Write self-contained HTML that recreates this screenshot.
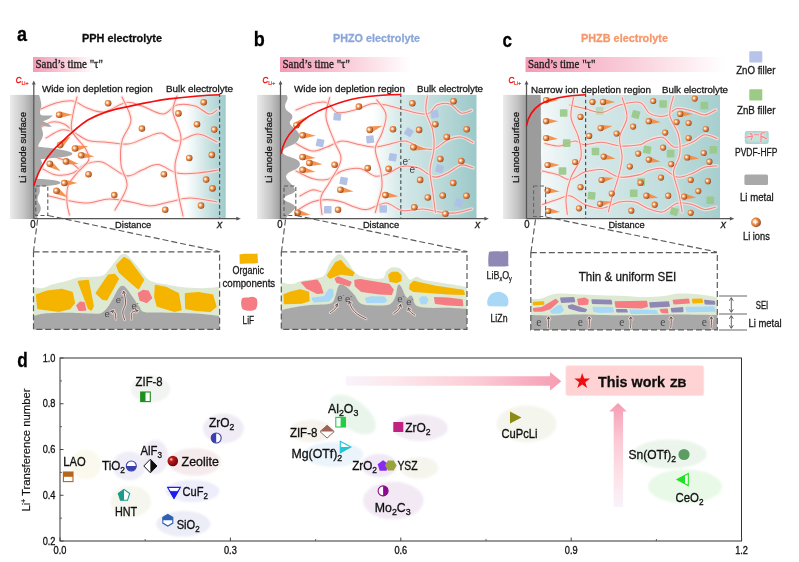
<!DOCTYPE html>
<html><head><meta charset="utf-8"><title>figure</title>
<style>
html,body{margin:0;padding:0;background:#fff;}
body{width:799px;height:562px;overflow:hidden;font-family:"Liberation Sans",sans-serif;}
svg{display:block;}
</style></head><body>
<svg width="799" height="562" viewBox="0 0 799 562">
<defs>
<radialGradient id="ion" cx="0.38" cy="0.42" r="0.62">
<stop offset="0" stop-color="#ffffff"/><stop offset="0.2" stop-color="#ffe2c6"/><stop offset="0.45" stop-color="#ee914c"/><stop offset="0.8" stop-color="#c4672f"/><stop offset="1" stop-color="#7a4224"/>
</radialGradient>
<linearGradient id="sand" x1="0" x2="1"><stop offset="0" stop-color="#f49bb6"/><stop offset="0.5" stop-color="#f9cbd8"/><stop offset="1" stop-color="#ffffff"/></linearGradient>
<linearGradient id="liA" x1="0" x2="1"><stop offset="0" stop-color="#ececec"/><stop offset="0.6" stop-color="#c4c4c4"/><stop offset="1" stop-color="#9e9e9e"/></linearGradient>
<linearGradient id="tealA" x1="0" x2="1"><stop offset="0" stop-color="#ffffff"/><stop offset="1" stop-color="#9ecaca"/></linearGradient>
<linearGradient id="tealB" x1="0" x2="1"><stop offset="0" stop-color="#ffffff"/><stop offset="0.28" stop-color="#d4e8e8"/><stop offset="0.6" stop-color="#bfdcdc"/><stop offset="1" stop-color="#9cc8c8"/></linearGradient>
<linearGradient id="tealC" x1="0" x2="1"><stop offset="0" stop-color="#f4f9fa"/><stop offset="0.12" stop-color="#e6f1f2"/><stop offset="0.25" stop-color="#d6e8e9"/><stop offset="0.7" stop-color="#c1dddd"/><stop offset="1" stop-color="#a6cece"/></linearGradient>
<linearGradient id="harrow" x1="0" x2="1"><stop offset="0" stop-color="#f8f3fb"/><stop offset="0.25" stop-color="#fde6eb"/><stop offset="0.6" stop-color="#fbccd6"/><stop offset="1" stop-color="#f69cb3"/></linearGradient>
<linearGradient id="varrow" x1="0" x2="0" y1="1" y2="0"><stop offset="0" stop-color="#f8f3fb"/><stop offset="0.3" stop-color="#fde2e8"/><stop offset="0.65" stop-color="#fbc9d4"/><stop offset="1" stop-color="#f69cb3"/></linearGradient>
<clipPath id="clipA"><rect x="34" y="93" width="192" height="125"/></clipPath>
<clipPath id="clipB"><rect x="281" y="93" width="195.5" height="125"/></clipPath>
<clipPath id="clipC"><rect x="540" y="93" width="180" height="125"/></clipPath>
<radialGradient id="zeo" cx="0.35" cy="0.35" r="0.7"><stop offset="0" stop-color="#ffdede"/><stop offset="0.25" stop-color="#c02020"/><stop offset="1" stop-color="#6a0000"/></radialGradient>
<filter id="eb" x="-10%" y="-10%" width="120%" height="120%"><feGaussianBlur stdDeviation="0.9"/></filter>
<filter id="soft" x="-5%" y="-5%" width="110%" height="110%"><feGaussianBlur stdDeviation="0.35"/></filter>
</defs>
<rect width="799" height="562" fill="#ffffff"/>
<g filter="url(#soft)">

<rect x="10" y="94.9" width="23.799999999999997" height="124.1" fill="url(#liA)"/>
<rect x="186" y="94.9" width="39.69999999999999" height="124.1" fill="url(#tealA)"/>
<rect x="257" y="94.9" width="23.5" height="124.1" fill="url(#liA)"/>
<rect x="372" y="94.9" width="104.5" height="124.1" fill="url(#tealB)"/>
<rect x="503" y="94.9" width="23.5" height="124.1" fill="url(#liA)"/>
<rect x="541" y="94.9" width="179" height="124.1" fill="url(#tealC)"/>
<g clip-path="url(#clipA)">
<path d="M41.0,109.0 C43.5,108.0 50.7,104.3 56.0,103.0 C61.3,101.7 67.8,100.2 73.0,101.0 C78.2,101.8 81.8,106.2 87.0,108.0 C92.2,109.8 97.5,112.9 104.0,112.0 C110.5,111.1 119.7,103.5 126.0,102.5 C132.3,101.5 135.8,104.1 142.0,106.0 C148.2,107.9 157.2,114.2 163.0,114.0 C168.8,113.8 171.7,106.3 177.0,105.0 C182.3,103.7 189.7,104.5 195.0,106.0 C200.3,107.5 205.3,113.3 209.0,114.0 C212.7,114.7 215.7,110.7 217.0,110.0" fill="none" stroke="#fde3de" stroke-width="3.6500000000000004" stroke-linecap="round" opacity="0.75"/>
<path d="M41.0,109.0 C43.5,108.0 50.7,104.3 56.0,103.0 C61.3,101.7 67.8,100.2 73.0,101.0 C78.2,101.8 81.8,106.2 87.0,108.0 C92.2,109.8 97.5,112.9 104.0,112.0 C110.5,111.1 119.7,103.5 126.0,102.5 C132.3,101.5 135.8,104.1 142.0,106.0 C148.2,107.9 157.2,114.2 163.0,114.0 C168.8,113.8 171.7,106.3 177.0,105.0 C182.3,103.7 189.7,104.5 195.0,106.0 C200.3,107.5 205.3,113.3 209.0,114.0 C212.7,114.7 215.7,110.7 217.0,110.0" fill="none" stroke="#f5807c" stroke-width="1.05" stroke-linecap="round"/>
<path d="M46.0,138.0 C48.5,136.7 56.5,131.0 61.0,130.0 C65.5,129.0 68.5,130.2 73.0,132.0 C77.5,133.8 82.8,138.8 88.0,140.5 C93.2,142.2 97.3,141.4 104.0,142.0 C110.7,142.6 121.2,144.7 128.0,144.0 C134.8,143.3 139.5,139.8 145.0,138.0 C150.5,136.2 155.7,132.5 161.0,133.0 C166.3,133.5 170.8,140.8 177.0,141.0 C183.2,141.2 191.3,133.8 198.0,134.0 C204.7,134.2 213.8,140.7 217.0,142.0" fill="none" stroke="#fde3de" stroke-width="3.6500000000000004" stroke-linecap="round" opacity="0.75"/>
<path d="M46.0,138.0 C48.5,136.7 56.5,131.0 61.0,130.0 C65.5,129.0 68.5,130.2 73.0,132.0 C77.5,133.8 82.8,138.8 88.0,140.5 C93.2,142.2 97.3,141.4 104.0,142.0 C110.7,142.6 121.2,144.7 128.0,144.0 C134.8,143.3 139.5,139.8 145.0,138.0 C150.5,136.2 155.7,132.5 161.0,133.0 C166.3,133.5 170.8,140.8 177.0,141.0 C183.2,141.2 191.3,133.8 198.0,134.0 C204.7,134.2 213.8,140.7 217.0,142.0" fill="none" stroke="#f5807c" stroke-width="1.05" stroke-linecap="round"/>
<path d="M43.0,169.0 C45.2,170.0 51.0,174.3 56.0,175.0 C61.0,175.7 68.2,174.8 73.0,173.0 C77.8,171.2 80.2,166.3 85.0,164.5 C89.8,162.7 95.2,160.1 102.0,162.0 C108.8,163.9 119.3,174.4 126.0,175.7 C132.7,177.0 136.7,171.9 142.0,170.0 C147.3,168.1 152.2,164.0 158.0,164.5 C163.8,165.0 170.3,171.6 177.0,173.0 C183.7,174.4 191.2,173.5 198.0,173.0 C204.8,172.5 214.7,170.5 218.0,170.0" fill="none" stroke="#fde3de" stroke-width="3.6500000000000004" stroke-linecap="round" opacity="0.75"/>
<path d="M43.0,169.0 C45.2,170.0 51.0,174.3 56.0,175.0 C61.0,175.7 68.2,174.8 73.0,173.0 C77.8,171.2 80.2,166.3 85.0,164.5 C89.8,162.7 95.2,160.1 102.0,162.0 C108.8,163.9 119.3,174.4 126.0,175.7 C132.7,177.0 136.7,171.9 142.0,170.0 C147.3,168.1 152.2,164.0 158.0,164.5 C163.8,165.0 170.3,171.6 177.0,173.0 C183.7,174.4 191.2,173.5 198.0,173.0 C204.8,172.5 214.7,170.5 218.0,170.0" fill="none" stroke="#f5807c" stroke-width="1.05" stroke-linecap="round"/>
<path d="M49.0,196.0 C52.2,196.8 61.5,199.3 68.0,200.5 C74.5,201.7 81.2,203.2 88.0,203.0 C94.8,202.8 101.8,199.2 109.0,199.0 C116.2,198.8 124.2,200.8 131.0,202.0 C137.8,203.2 143.7,206.0 150.0,206.0 C156.3,206.0 162.3,203.3 169.0,202.0 C175.7,200.7 182.0,198.0 190.0,198.0 C198.0,198.0 212.5,201.3 217.0,202.0" fill="none" stroke="#fde3de" stroke-width="3.6500000000000004" stroke-linecap="round" opacity="0.75"/>
<path d="M49.0,196.0 C52.2,196.8 61.5,199.3 68.0,200.5 C74.5,201.7 81.2,203.2 88.0,203.0 C94.8,202.8 101.8,199.2 109.0,199.0 C116.2,198.8 124.2,200.8 131.0,202.0 C137.8,203.2 143.7,206.0 150.0,206.0 C156.3,206.0 162.3,203.3 169.0,202.0 C175.7,200.7 182.0,198.0 190.0,198.0 C198.0,198.0 212.5,201.3 217.0,202.0" fill="none" stroke="#f5807c" stroke-width="1.05" stroke-linecap="round"/>
<path d="M41.0,127.0 C42.8,126.2 48.2,122.5 52.0,122.0 C55.8,121.5 60.5,122.5 64.0,124.0 C67.5,125.5 71.5,129.8 73.0,131.0" fill="none" stroke="#fde3de" stroke-width="3.6500000000000004" stroke-linecap="round" opacity="0.75"/>
<path d="M41.0,127.0 C42.8,126.2 48.2,122.5 52.0,122.0 C55.8,121.5 60.5,122.5 64.0,124.0 C67.5,125.5 71.5,129.8 73.0,131.0" fill="none" stroke="#f5807c" stroke-width="1.05" stroke-linecap="round"/>
<path d="M44.0,152.0 C46.3,153.0 53.7,156.3 58.0,158.0 C62.3,159.7 66.3,160.0 70.0,162.0 C73.7,164.0 78.3,168.7 80.0,170.0" fill="none" stroke="#fde3de" stroke-width="3.6500000000000004" stroke-linecap="round" opacity="0.75"/>
<path d="M44.0,152.0 C46.3,153.0 53.7,156.3 58.0,158.0 C62.3,159.7 66.3,160.0 70.0,162.0 C73.7,164.0 78.3,168.7 80.0,170.0" fill="none" stroke="#f5807c" stroke-width="1.05" stroke-linecap="round"/>
<path d="M77.0,97.0 C76.3,99.8 73.8,108.3 73.0,114.0 C72.2,119.7 70.0,125.3 72.0,131.0 C74.0,136.7 82.2,143.2 85.0,148.0 C87.8,152.8 89.9,156.0 88.7,160.0 C87.5,164.0 81.5,167.7 78.0,172.0 C74.5,176.3 69.8,180.8 68.0,186.0 C66.2,191.2 66.8,198.2 67.0,203.0 C67.2,207.8 69.1,213.0 69.5,215.0" fill="none" stroke="#fde3de" stroke-width="3.6500000000000004" stroke-linecap="round" opacity="0.75"/>
<path d="M77.0,97.0 C76.3,99.8 73.8,108.3 73.0,114.0 C72.2,119.7 70.0,125.3 72.0,131.0 C74.0,136.7 82.2,143.2 85.0,148.0 C87.8,152.8 89.9,156.0 88.7,160.0 C87.5,164.0 81.5,167.7 78.0,172.0 C74.5,176.3 69.8,180.8 68.0,186.0 C66.2,191.2 66.8,198.2 67.0,203.0 C67.2,207.8 69.1,213.0 69.5,215.0" fill="none" stroke="#f5807c" stroke-width="1.05" stroke-linecap="round"/>
<path d="M122.0,97.0 C123.5,100.8 131.0,112.7 131.0,120.0 C131.0,127.3 123.7,133.5 122.0,141.0 C120.3,148.5 120.2,157.5 121.0,165.0 C121.8,172.5 128.0,178.5 127.0,186.0 C126.0,193.5 117.0,206.0 115.0,210.0" fill="none" stroke="#fde3de" stroke-width="3.6500000000000004" stroke-linecap="round" opacity="0.75"/>
<path d="M122.0,97.0 C123.5,100.8 131.0,112.7 131.0,120.0 C131.0,127.3 123.7,133.5 122.0,141.0 C120.3,148.5 120.2,157.5 121.0,165.0 C121.8,172.5 128.0,178.5 127.0,186.0 C126.0,193.5 117.0,206.0 115.0,210.0" fill="none" stroke="#f5807c" stroke-width="1.05" stroke-linecap="round"/>
<path d="M177.0,96.0 C176.3,98.7 172.3,105.0 173.0,112.0 C173.7,119.0 180.7,129.2 181.0,138.0 C181.3,146.8 175.5,156.0 175.0,165.0 C174.5,174.0 176.7,183.5 178.0,192.0 C179.3,200.5 182.2,212.0 183.0,216.0" fill="none" stroke="#fde3de" stroke-width="3.6500000000000004" stroke-linecap="round" opacity="0.75"/>
<path d="M177.0,96.0 C176.3,98.7 172.3,105.0 173.0,112.0 C173.7,119.0 180.7,129.2 181.0,138.0 C181.3,146.8 175.5,156.0 175.0,165.0 C174.5,174.0 176.7,183.5 178.0,192.0 C179.3,200.5 182.2,212.0 183.0,216.0" fill="none" stroke="#f5807c" stroke-width="1.05" stroke-linecap="round"/>
</g>
<path d="M33.8,94.9 L39,94.9 C39.8,96.5 40.8,100 41.3,104 C41.5,107.5 40,110 40,112.5 C40,114 40.5,114.8 41.5,115.2 C45,116.2 49,115 52.8,115.6 C51,118.2 46.5,120.2 42.8,121.3 C46,122.2 49.5,124.4 51.8,126.6 C48,127.6 43.8,125.2 41,125.8 C41.2,128.5 43.2,131 43,134.5 C42.8,139.5 38.5,142.5 38.2,146.8 C46,147.5 58,148.9 66,150.7 C70,151.6 72.6,152.6 72.4,153.8 C72.2,155.2 69,156.1 65,156.7 C57,157.9 47,158.3 40.5,159.3 C42.5,161.5 42.2,164.5 40.6,167.5 C38.6,171 37,174.5 37.4,178.8 C44,179 52,179.6 57,180.8 C59.5,181.5 60.6,182.2 60.4,182.9 C60,183.9 57,184.7 53,185.3 C48,186 43,186 39.5,186.8 C40,190 40.3,192.5 38.4,195.5 C36.7,198.5 37.4,201.5 39.6,204.5 C41.6,207.5 41,211.5 38.2,214.5 C37,216 37.2,218 37.6,219 L33.8,219 Z" fill="#a9a9a9"/>
<circle cx="108.1" cy="103.2" r="3.3" fill="url(#ion)"/>
<polygon points="60.1,117.9 72.4,114.7 60.1,111.6" fill="#f58a42" opacity="0.92"/>
<circle cx="59.1" cy="114.7" r="3.3" fill="url(#ion)"/>
<circle cx="203.7" cy="102.2" r="3.3" fill="url(#ion)"/>
<circle cx="178.4" cy="113.4" r="3.3" fill="url(#ion)"/>
<circle cx="197.0" cy="124.2" r="3.3" fill="url(#ion)"/>
<circle cx="141.9" cy="128.6" r="3.3" fill="url(#ion)"/>
<circle cx="214.2" cy="129.6" r="3.3" fill="url(#ion)"/>
<polygon points="62.9,146.9 70.3,136.6 58.9,142.1" fill="#f58a42" opacity="0.92"/>
<circle cx="60.1" cy="145.1" r="3.3" fill="url(#ion)"/>
<polygon points="76.5,151.4 88.1,146.2 75.4,145.3" fill="#f58a42" opacity="0.92"/>
<circle cx="75.0" cy="148.5" r="3.3" fill="url(#ion)"/>
<polygon points="81.8,158.5 94.3,156.4 82.4,152.2" fill="#f58a42" opacity="0.92"/>
<circle cx="81.1" cy="155.3" r="3.3" fill="url(#ion)"/>
<polygon points="66.2,164.6 78.9,164.1 67.5,158.5" fill="#f58a42" opacity="0.92"/>
<circle cx="65.9" cy="161.4" r="3.3" fill="url(#ion)"/>
<polygon points="48.7,166.9 60.6,171.3 52.3,161.7" fill="#f58a42" opacity="0.92"/>
<circle cx="49.7" cy="163.7" r="3.3" fill="url(#ion)"/>
<circle cx="88.5" cy="174.2" r="3.3" fill="url(#ion)"/>
<circle cx="163.9" cy="174.2" r="3.3" fill="url(#ion)"/>
<circle cx="189.2" cy="158.0" r="3.3" fill="url(#ion)"/>
<circle cx="211.8" cy="154.9" r="3.3" fill="url(#ion)"/>
<circle cx="206.1" cy="179.6" r="3.3" fill="url(#ion)"/>
<circle cx="212.5" cy="188.4" r="3.3" fill="url(#ion)"/>
<polygon points="65.2,186.1 77.5,183.0 65.2,179.8" fill="#f58a42" opacity="0.92"/>
<circle cx="64.2" cy="183.0" r="3.3" fill="url(#ion)"/>
<polygon points="55.7,194.0 67.9,197.4 58.9,188.5" fill="#f58a42" opacity="0.92"/>
<circle cx="56.4" cy="190.7" r="3.3" fill="url(#ion)"/>
<circle cx="114.2" cy="195.1" r="3.3" fill="url(#ion)"/>
<circle cx="165.2" cy="209.7" r="3.3" fill="url(#ion)"/>
<circle cx="201.0" cy="205.6" r="3.3" fill="url(#ion)"/>
<rect x="35.8" y="186" width="12" height="29.5" fill="none" stroke="#5a5a5a" stroke-width="1.1" stroke-dasharray="4,2.4"/>
<path d="M37.6,219.5 L33.5,251.5 M48,215.5 L219.6,251.5" fill="none" stroke="#5a5a5a" stroke-width="1.15" stroke-dasharray="6,3"/>
<g clip-path="url(#clipB)">
<path d="M296.0,110.0 C298.7,109.0 306.8,105.0 312.0,103.7 C317.2,102.4 322.8,101.0 327.0,102.4 C331.2,103.9 332.4,111.1 337.0,112.4 C341.6,113.7 348.8,111.5 354.6,110.0 C360.4,108.5 366.8,104.5 372.0,103.7 C377.2,102.9 380.5,104.0 386.0,105.0 C391.5,106.0 398.2,108.5 405.0,110.0 C411.8,111.5 421.7,114.8 427.0,114.0 C432.3,113.2 433.2,106.7 437.0,105.0 C440.8,103.3 446.0,102.7 450.0,104.0 C454.0,105.3 457.4,111.9 461.0,113.0 C464.6,114.1 469.8,110.8 471.5,110.4" fill="none" stroke="#fde3de" stroke-width="3.6500000000000004" stroke-linecap="round" opacity="0.75"/>
<path d="M296.0,110.0 C298.7,109.0 306.8,105.0 312.0,103.7 C317.2,102.4 322.8,101.0 327.0,102.4 C331.2,103.9 332.4,111.1 337.0,112.4 C341.6,113.7 348.8,111.5 354.6,110.0 C360.4,108.5 366.8,104.5 372.0,103.7 C377.2,102.9 380.5,104.0 386.0,105.0 C391.5,106.0 398.2,108.5 405.0,110.0 C411.8,111.5 421.7,114.8 427.0,114.0 C432.3,113.2 433.2,106.7 437.0,105.0 C440.8,103.3 446.0,102.7 450.0,104.0 C454.0,105.3 457.4,111.9 461.0,113.0 C464.6,114.1 469.8,110.8 471.5,110.4" fill="none" stroke="#f5807c" stroke-width="1.05" stroke-linecap="round"/>
<path d="M296.0,143.5 C298.7,144.8 306.8,150.4 312.0,151.0 C317.2,151.6 322.0,148.7 327.0,147.0 C332.0,145.3 336.5,141.4 342.0,141.0 C347.5,140.6 354.6,143.8 360.0,144.8 C365.4,145.8 370.2,147.0 374.5,147.0 C378.8,147.0 380.9,146.0 386.0,145.0 C391.1,144.0 399.2,140.5 405.0,141.0 C410.8,141.5 416.2,146.7 421.0,148.0 C425.8,149.3 429.6,150.3 434.0,149.0 C438.4,147.7 443.0,142.0 447.5,140.0 C452.0,138.0 456.8,136.6 461.0,137.0 C465.2,137.4 471.0,141.5 473.0,142.4" fill="none" stroke="#fde3de" stroke-width="3.6500000000000004" stroke-linecap="round" opacity="0.75"/>
<path d="M296.0,143.5 C298.7,144.8 306.8,150.4 312.0,151.0 C317.2,151.6 322.0,148.7 327.0,147.0 C332.0,145.3 336.5,141.4 342.0,141.0 C347.5,140.6 354.6,143.8 360.0,144.8 C365.4,145.8 370.2,147.0 374.5,147.0 C378.8,147.0 380.9,146.0 386.0,145.0 C391.1,144.0 399.2,140.5 405.0,141.0 C410.8,141.5 416.2,146.7 421.0,148.0 C425.8,149.3 429.6,150.3 434.0,149.0 C438.4,147.7 443.0,142.0 447.5,140.0 C452.0,138.0 456.8,136.6 461.0,137.0 C465.2,137.4 471.0,141.5 473.0,142.4" fill="none" stroke="#f5807c" stroke-width="1.05" stroke-linecap="round"/>
<path d="M296.0,171.0 C298.7,172.2 306.8,177.0 312.0,178.4 C317.2,179.8 322.0,180.8 327.0,179.6 C332.0,178.4 336.5,172.9 342.0,171.0 C347.5,169.1 354.6,167.6 360.0,168.4 C365.4,169.2 370.2,175.0 374.5,176.0 C378.8,177.0 381.4,176.1 386.0,174.5 C390.6,172.9 396.7,167.6 402.0,166.5 C407.3,165.4 412.7,166.1 418.0,167.8 C423.3,169.6 429.1,176.1 434.0,177.0 C438.9,177.9 443.0,175.0 447.5,173.0 C452.0,171.0 456.8,165.9 461.0,165.0 C465.2,164.1 471.0,167.3 473.0,167.8" fill="none" stroke="#fde3de" stroke-width="3.6500000000000004" stroke-linecap="round" opacity="0.75"/>
<path d="M296.0,171.0 C298.7,172.2 306.8,177.0 312.0,178.4 C317.2,179.8 322.0,180.8 327.0,179.6 C332.0,178.4 336.5,172.9 342.0,171.0 C347.5,169.1 354.6,167.6 360.0,168.4 C365.4,169.2 370.2,175.0 374.5,176.0 C378.8,177.0 381.4,176.1 386.0,174.5 C390.6,172.9 396.7,167.6 402.0,166.5 C407.3,165.4 412.7,166.1 418.0,167.8 C423.3,169.6 429.1,176.1 434.0,177.0 C438.9,177.9 443.0,175.0 447.5,173.0 C452.0,171.0 456.8,165.9 461.0,165.0 C465.2,164.1 471.0,167.3 473.0,167.8" fill="none" stroke="#f5807c" stroke-width="1.05" stroke-linecap="round"/>
<path d="M298.6,209.5 C300.8,208.2 307.3,203.7 312.0,202.0 C316.7,200.3 322.0,199.6 327.0,199.6 C332.0,199.6 337.4,200.8 342.0,202.0 C346.6,203.2 350.4,205.8 354.6,207.0 C358.8,208.2 361.8,210.2 367.0,209.5 C372.2,208.8 380.2,202.8 386.0,203.0 C391.8,203.2 395.8,209.5 402.0,210.5 C408.2,211.5 416.8,208.8 423.0,209.0 C429.2,209.2 434.1,211.3 439.5,212.0 C444.9,212.7 450.2,213.5 455.5,213.0 C460.8,212.5 468.8,209.7 471.5,209.0" fill="none" stroke="#fde3de" stroke-width="3.6500000000000004" stroke-linecap="round" opacity="0.75"/>
<path d="M298.6,209.5 C300.8,208.2 307.3,203.7 312.0,202.0 C316.7,200.3 322.0,199.6 327.0,199.6 C332.0,199.6 337.4,200.8 342.0,202.0 C346.6,203.2 350.4,205.8 354.6,207.0 C358.8,208.2 361.8,210.2 367.0,209.5 C372.2,208.8 380.2,202.8 386.0,203.0 C391.8,203.2 395.8,209.5 402.0,210.5 C408.2,211.5 416.8,208.8 423.0,209.0 C429.2,209.2 434.1,211.3 439.5,212.0 C444.9,212.7 450.2,213.5 455.5,213.0 C460.8,212.5 468.8,209.7 471.5,209.0" fill="none" stroke="#f5807c" stroke-width="1.05" stroke-linecap="round"/>
<path d="M300.0,196.0 C302.0,195.0 308.3,190.7 312.0,190.0 C315.7,189.3 320.3,191.7 322.0,192.0" fill="none" stroke="#fde3de" stroke-width="3.6500000000000004" stroke-linecap="round" opacity="0.75"/>
<path d="M300.0,196.0 C302.0,195.0 308.3,190.7 312.0,190.0 C315.7,189.3 320.3,191.7 322.0,192.0" fill="none" stroke="#f5807c" stroke-width="1.05" stroke-linecap="round"/>
<path d="M329.7,97.5 C329.1,100.8 325.2,109.9 326.0,117.4 C326.8,124.9 332.2,135.2 334.7,142.3 C337.2,149.4 341.8,153.1 341.0,159.7 C340.2,166.3 333.0,175.8 329.7,182.0 C326.4,188.2 322.3,191.6 321.0,197.0 C319.7,202.4 321.8,211.6 322.0,214.5" fill="none" stroke="#fde3de" stroke-width="3.6500000000000004" stroke-linecap="round" opacity="0.75"/>
<path d="M329.7,97.5 C329.1,100.8 325.2,109.9 326.0,117.4 C326.8,124.9 332.2,135.2 334.7,142.3 C337.2,149.4 341.8,153.1 341.0,159.7 C340.2,166.3 333.0,175.8 329.7,182.0 C326.4,188.2 322.3,191.6 321.0,197.0 C319.7,202.4 321.8,211.6 322.0,214.5" fill="none" stroke="#f5807c" stroke-width="1.05" stroke-linecap="round"/>
<path d="M376.7,99.7 C378.2,102.2 385.1,108.9 386.0,114.4 C386.9,120.0 383.8,127.2 382.0,133.0 C380.2,138.8 375.5,142.8 375.3,149.0 C375.1,155.2 379.6,164.2 380.7,170.5 C381.8,176.8 382.4,181.2 382.0,186.5 C381.6,191.8 379.1,198.2 378.0,202.5 C376.9,206.8 375.8,210.8 375.3,212.5" fill="none" stroke="#fde3de" stroke-width="3.6500000000000004" stroke-linecap="round" opacity="0.75"/>
<path d="M376.7,99.7 C378.2,102.2 385.1,108.9 386.0,114.4 C386.9,120.0 383.8,127.2 382.0,133.0 C380.2,138.8 375.5,142.8 375.3,149.0 C375.1,155.2 379.6,164.2 380.7,170.5 C381.8,176.8 382.4,181.2 382.0,186.5 C381.6,191.8 379.1,198.2 378.0,202.5 C376.9,206.8 375.8,210.8 375.3,212.5" fill="none" stroke="#f5807c" stroke-width="1.05" stroke-linecap="round"/>
<path d="M427.4,95.7 C427.2,98.4 425.1,105.9 426.0,111.7 C426.9,117.5 431.5,124.2 432.8,130.4 C434.1,136.6 434.5,142.3 434.0,149.0 C433.5,155.7 430.2,163.3 430.0,170.5 C429.8,177.7 431.9,185.0 432.8,192.0 C433.7,199.0 435.0,209.1 435.4,212.5" fill="none" stroke="#fde3de" stroke-width="3.6500000000000004" stroke-linecap="round" opacity="0.75"/>
<path d="M427.4,95.7 C427.2,98.4 425.1,105.9 426.0,111.7 C426.9,117.5 431.5,124.2 432.8,130.4 C434.1,136.6 434.5,142.3 434.0,149.0 C433.5,155.7 430.2,163.3 430.0,170.5 C429.8,177.7 431.9,185.0 432.8,192.0 C433.7,199.0 435.0,209.1 435.4,212.5" fill="none" stroke="#f5807c" stroke-width="1.05" stroke-linecap="round"/>
</g>
<path d="M280.5,94.9 L286.5,94.9 C288,96.5 287.8,99 286.5,101.5 C284.8,104 284.6,107 286,109.5 C288,112 292,113 292.4,116.5 C292.6,119.5 289.5,120.5 289.8,123 C290.5,126.5 296,128.5 298.6,133 C300.5,137 298.5,141.5 294,144 C289.5,146.5 283,148 282.6,152 C283,156 291,156.5 296.5,159.5 C301,162 301,166 297,168.5 C292.5,171 286.5,172.5 286,176.5 C286.2,181 294.5,185.5 295.2,190.5 C295.2,194 284.5,195 283.6,198.5 C284,202 294.6,203 295.2,207 C295.4,211 287.5,213.5 286,219 L280.5,219 Z" fill="#a9a9a9"/>
<rect x="333.5" y="113.0" width="7.6" height="7.6" rx="0.8" fill="#aebfe6" opacity="0.95" transform="rotate(5 337.3 116.8)"/>
<rect x="316.3" y="139.0" width="7.6" height="7.6" rx="0.8" fill="#aebfe6" opacity="0.95" transform="rotate(12 320.1 142.8)"/>
<rect x="366.3" y="135.6" width="7.6" height="7.6" rx="0.8" fill="#aebfe6" opacity="0.95" transform="rotate(-6 370.1 139.4)"/>
<rect x="405.1" y="128.5" width="7.6" height="7.6" rx="0.8" fill="#aebfe6" opacity="0.95" transform="rotate(32 408.9 132.3)"/>
<rect x="388.9" y="153.5" width="7.6" height="7.6" rx="0.8" fill="#aebfe6" opacity="0.95" transform="rotate(10 392.7 157.3)"/>
<rect x="430.8" y="110.3" width="7.6" height="7.6" rx="0.8" fill="#aebfe6" opacity="0.95" transform="rotate(-12 434.6 114.1)"/>
<rect x="435.9" y="165.0" width="7.6" height="7.6" rx="0.8" fill="#aebfe6" opacity="0.95" transform="rotate(15 439.7 168.8)"/>
<rect x="339.9" y="177.1" width="7.6" height="7.6" rx="0.8" fill="#aebfe6" opacity="0.95" transform="rotate(10 343.7 180.9)"/>
<rect x="324.0" y="205.9" width="7.6" height="7.6" rx="0.8" fill="#aebfe6" opacity="0.95" transform="rotate(0 327.8 209.7)"/>
<rect x="379.4" y="205.2" width="7.6" height="7.6" rx="0.8" fill="#aebfe6" opacity="0.95" transform="rotate(0 383.2 209.0)"/>
<rect x="455.1" y="199.1" width="7.6" height="7.6" rx="0.8" fill="#aebfe6" opacity="0.95" transform="rotate(20 458.9 202.9)"/>
<circle cx="358.9" cy="106.6" r="3.3" fill="url(#ion)"/>
<polygon points="299.2,127.0 306.6,116.7 295.2,122.2" fill="#f58a42" opacity="0.92"/>
<circle cx="296.4" cy="125.2" r="3.3" fill="url(#ion)"/>
<polygon points="303.4,138.5 315.8,135.8 303.6,132.2" fill="#f58a42" opacity="0.92"/>
<circle cx="302.5" cy="135.3" r="3.3" fill="url(#ion)"/>
<polygon points="371.6,132.6 382.4,125.8 369.7,126.6" fill="#f58a42" opacity="0.92"/>
<circle cx="369.7" cy="129.9" r="3.3" fill="url(#ion)"/>
<circle cx="393.0" cy="129.3" r="3.3" fill="url(#ion)"/>
<polygon points="303.2,160.2 315.7,158.1 303.8,153.9" fill="#f58a42" opacity="0.92"/>
<circle cx="302.5" cy="157.0" r="3.3" fill="url(#ion)"/>
<polygon points="310.0,166.3 322.5,164.2 310.5,160.0" fill="#f58a42" opacity="0.92"/>
<circle cx="309.3" cy="163.0" r="3.3" fill="url(#ion)"/>
<polygon points="302.9,173.1 315.6,172.1 304.0,166.9" fill="#f58a42" opacity="0.92"/>
<circle cx="302.5" cy="169.8" r="3.3" fill="url(#ion)"/>
<circle cx="334.6" cy="164.7" r="3.3" fill="url(#ion)"/>
<circle cx="367.7" cy="168.1" r="3.3" fill="url(#ion)"/>
<circle cx="388.6" cy="168.8" r="3.3" fill="url(#ion)"/>
<polygon points="340.9,193.0 353.5,191.6 341.8,186.8" fill="#f58a42" opacity="0.92"/>
<circle cx="340.3" cy="189.7" r="3.3" fill="url(#ion)"/>
<polygon points="386.0,198.3 398.5,196.3 386.5,192.1" fill="#f58a42" opacity="0.92"/>
<circle cx="385.3" cy="195.1" r="3.3" fill="url(#ion)"/>
<circle cx="338.0" cy="209.7" r="3.3" fill="url(#ion)"/>
<polygon points="297.9,216.0 310.5,215.0 299.0,209.8" fill="#f58a42" opacity="0.92"/>
<circle cx="297.4" cy="212.7" r="3.3" fill="url(#ion)"/>
<circle cx="412.3" cy="103.2" r="3.3" fill="url(#ion)"/>
<circle cx="453.5" cy="101.2" r="3.3" fill="url(#ion)"/>
<circle cx="435.3" cy="124.2" r="3.3" fill="url(#ion)"/>
<circle cx="419.1" cy="129.9" r="3.3" fill="url(#ion)"/>
<circle cx="446.8" cy="137.0" r="3.3" fill="url(#ion)"/>
<circle cx="466.7" cy="129.3" r="3.3" fill="url(#ion)"/>
<polygon points="413.8,150.4 426.4,149.5 414.8,144.2" fill="#f58a42" opacity="0.92"/>
<circle cx="413.3" cy="147.2" r="3.3" fill="url(#ion)"/>
<circle cx="440.3" cy="159.0" r="3.3" fill="url(#ion)"/>
<circle cx="461.3" cy="161.0" r="3.3" fill="url(#ion)"/>
<circle cx="420.1" cy="179.9" r="3.3" fill="url(#ion)"/>
<circle cx="453.2" cy="183.0" r="3.3" fill="url(#ion)"/>
<circle cx="427.8" cy="197.5" r="3.3" fill="url(#ion)"/>
<circle cx="442.7" cy="195.5" r="3.3" fill="url(#ion)"/>
<circle cx="466.4" cy="195.8" r="3.3" fill="url(#ion)"/>
<circle cx="414.3" cy="207.3" r="3.3" fill="url(#ion)"/>
<circle cx="445.4" cy="213.7" r="3.3" fill="url(#ion)"/>
<text x="402.6" y="165" font-size="10" fill="#444" font-family='"Liberation Sans", sans-serif'>e<tspan font-size="6" dy="-4">-</tspan></text>
<text x="409.6" y="173" font-size="10" fill="#444" font-family='"Liberation Sans", sans-serif'>e<tspan font-size="6" dy="-4">-</tspan></text>
<rect x="284" y="186" width="11.8" height="29.5" fill="none" stroke="#5a5a5a" stroke-width="1.1" stroke-dasharray="4,2.4"/>
<path d="M285.5,219.5 L281.5,251.5 M296,215.5 L467,251.5" fill="none" stroke="#5a5a5a" stroke-width="1.15" stroke-dasharray="6,3"/>
<rect x="526.5" y="94.9" width="14" height="124.1" fill="#9c9c9c"/>
<path d="M540.3,94.9 C541.5,105 540,115 541,125 C541.8,138 540.2,150 541.2,162 C541.8,175 540.2,190 541,203 C541.5,210 540.6,214 540.8,219 L539,219 L539,94.9 Z" fill="#9c9c9c"/>
<g clip-path="url(#clipC)">
<path d="M569.8,104.9 C572.3,105.5 579.3,107.3 584.7,108.6 C590.1,109.8 596.4,113.0 602.2,112.4 C608.0,111.8 613.3,106.6 619.6,104.9 C625.9,103.2 635.0,101.0 640.0,102.4 C645.0,103.9 645.8,111.3 649.9,113.6 C654.0,115.9 660.2,116.9 664.8,116.1 C669.4,115.3 672.7,109.4 677.3,108.6 C681.9,107.8 687.7,110.0 692.2,111.1 C696.8,112.1 700.7,115.1 704.6,114.9 C708.5,114.7 713.9,110.7 715.8,109.9" fill="none" stroke="#fde3de" stroke-width="3.6500000000000004" stroke-linecap="round" opacity="0.75"/>
<path d="M569.8,104.9 C572.3,105.5 579.3,107.3 584.7,108.6 C590.1,109.8 596.4,113.0 602.2,112.4 C608.0,111.8 613.3,106.6 619.6,104.9 C625.9,103.2 635.0,101.0 640.0,102.4 C645.0,103.9 645.8,111.3 649.9,113.6 C654.0,115.9 660.2,116.9 664.8,116.1 C669.4,115.3 672.7,109.4 677.3,108.6 C681.9,107.8 687.7,110.0 692.2,111.1 C696.8,112.1 700.7,115.1 704.6,114.9 C708.5,114.7 713.9,110.7 715.8,109.9" fill="none" stroke="#f5807c" stroke-width="1.05" stroke-linecap="round"/>
<path d="M544.9,143.5 C547.4,143.9 554.8,146.4 559.8,146.0 C564.8,145.6 570.6,141.2 574.8,141.0 C578.9,140.8 580.1,144.5 584.7,144.7 C589.3,144.9 596.4,142.1 602.2,142.3 C608.0,142.5 613.3,145.6 619.6,146.0 C625.9,146.4 635.4,145.5 640.0,144.7 C644.6,143.9 643.7,142.2 647.4,141.0 C651.1,139.8 657.7,136.3 662.3,137.3 C666.9,138.3 669.8,146.4 674.8,147.2 C679.8,148.0 687.2,144.4 692.2,142.3 C697.2,140.2 700.5,135.4 704.6,134.8 C708.8,134.2 715.0,137.9 717.1,138.5" fill="none" stroke="#fde3de" stroke-width="3.6500000000000004" stroke-linecap="round" opacity="0.75"/>
<path d="M544.9,143.5 C547.4,143.9 554.8,146.4 559.8,146.0 C564.8,145.6 570.6,141.2 574.8,141.0 C578.9,140.8 580.1,144.5 584.7,144.7 C589.3,144.9 596.4,142.1 602.2,142.3 C608.0,142.5 613.3,145.6 619.6,146.0 C625.9,146.4 635.4,145.5 640.0,144.7 C644.6,143.9 643.7,142.2 647.4,141.0 C651.1,139.8 657.7,136.3 662.3,137.3 C666.9,138.3 669.8,146.4 674.8,147.2 C679.8,148.0 687.2,144.4 692.2,142.3 C697.2,140.2 700.5,135.4 704.6,134.8 C708.8,134.2 715.0,137.9 717.1,138.5" fill="none" stroke="#f5807c" stroke-width="1.05" stroke-linecap="round"/>
<path d="M542.4,170.9 C544.9,171.5 552.7,173.2 557.3,174.6 C561.9,176.0 565.2,180.0 569.8,179.6 C574.4,179.2 579.3,173.8 584.7,172.1 C590.1,170.4 596.4,168.8 602.2,169.6 C608.0,170.4 613.3,176.3 619.6,177.1 C625.9,177.9 635.4,175.6 640.0,174.6 C644.6,173.6 643.7,171.9 647.4,170.9 C651.1,169.9 657.3,167.4 662.3,168.4 C667.3,169.4 672.3,176.3 677.3,177.1 C682.3,177.9 687.7,175.1 692.2,173.4 C696.8,171.8 700.5,168.4 704.6,167.2 C708.8,165.9 715.0,166.1 717.1,165.9" fill="none" stroke="#fde3de" stroke-width="3.6500000000000004" stroke-linecap="round" opacity="0.75"/>
<path d="M542.4,170.9 C544.9,171.5 552.7,173.2 557.3,174.6 C561.9,176.0 565.2,180.0 569.8,179.6 C574.4,179.2 579.3,173.8 584.7,172.1 C590.1,170.4 596.4,168.8 602.2,169.6 C608.0,170.4 613.3,176.3 619.6,177.1 C625.9,177.9 635.4,175.6 640.0,174.6 C644.6,173.6 643.7,171.9 647.4,170.9 C651.1,169.9 657.3,167.4 662.3,168.4 C667.3,169.4 672.3,176.3 677.3,177.1 C682.3,177.9 687.7,175.1 692.2,173.4 C696.8,171.8 700.5,168.4 704.6,167.2 C708.8,165.9 715.0,166.1 717.1,165.9" fill="none" stroke="#f5807c" stroke-width="1.05" stroke-linecap="round"/>
<path d="M542.4,204.5 C544.9,203.7 552.7,200.9 557.3,199.5 C561.9,198.1 565.2,195.0 569.8,195.8 C574.4,196.6 579.3,202.4 584.7,204.5 C590.1,206.6 596.4,208.6 602.2,208.2 C608.0,207.8 614.2,203.0 619.6,202.0 C625.0,201.0 630.3,201.0 634.9,202.0 C639.5,203.0 642.8,206.5 647.4,208.2 C652.0,209.9 657.3,212.8 662.3,212.0 C667.3,211.2 672.3,204.4 677.3,203.2 C682.3,201.9 687.7,203.4 692.2,204.5 C696.8,205.6 700.7,209.1 704.6,209.5 C708.5,209.9 713.9,207.4 715.8,207.0" fill="none" stroke="#fde3de" stroke-width="3.6500000000000004" stroke-linecap="round" opacity="0.75"/>
<path d="M542.4,204.5 C544.9,203.7 552.7,200.9 557.3,199.5 C561.9,198.1 565.2,195.0 569.8,195.8 C574.4,196.6 579.3,202.4 584.7,204.5 C590.1,206.6 596.4,208.6 602.2,208.2 C608.0,207.8 614.2,203.0 619.6,202.0 C625.0,201.0 630.3,201.0 634.9,202.0 C639.5,203.0 642.8,206.5 647.4,208.2 C652.0,209.9 657.3,212.8 662.3,212.0 C667.3,211.2 672.3,204.4 677.3,203.2 C682.3,201.9 687.7,203.4 692.2,204.5 C696.8,205.6 700.7,209.1 704.6,209.5 C708.5,209.9 713.9,207.4 715.8,207.0" fill="none" stroke="#f5807c" stroke-width="1.05" stroke-linecap="round"/>
<path d="M573.5,97.4 C573.1,100.7 570.2,110.8 571.0,117.4 C571.8,124.1 576.8,130.7 578.5,137.3 C580.2,143.9 582.2,150.6 581.0,157.2 C579.8,163.8 573.5,170.5 571.0,177.1 C568.5,183.7 566.7,190.8 566.1,197.0 C565.5,203.2 567.1,211.5 567.3,214.4" fill="none" stroke="#fde3de" stroke-width="3.6500000000000004" stroke-linecap="round" opacity="0.75"/>
<path d="M573.5,97.4 C573.1,100.7 570.2,110.8 571.0,117.4 C571.8,124.1 576.8,130.7 578.5,137.3 C580.2,143.9 582.2,150.6 581.0,157.2 C579.8,163.8 573.5,170.5 571.0,177.1 C568.5,183.7 566.7,190.8 566.1,197.0 C565.5,203.2 567.1,211.5 567.3,214.4" fill="none" stroke="#f5807c" stroke-width="1.05" stroke-linecap="round"/>
<path d="M622.1,97.4 C622.9,100.7 627.4,110.8 627.0,117.4 C626.6,124.1 620.4,130.7 619.6,137.3 C618.8,143.9 622.3,150.6 622.1,157.2 C621.9,163.8 620.0,170.5 618.3,177.1 C616.6,183.7 613.8,191.2 612.1,197.0 C610.5,202.8 609.0,209.5 608.4,212.0" fill="none" stroke="#fde3de" stroke-width="3.6500000000000004" stroke-linecap="round" opacity="0.75"/>
<path d="M622.1,97.4 C622.9,100.7 627.4,110.8 627.0,117.4 C626.6,124.1 620.4,130.7 619.6,137.3 C618.8,143.9 622.3,150.6 622.1,157.2 C621.9,163.8 620.0,170.5 618.3,177.1 C616.6,183.7 613.8,191.2 612.1,197.0 C610.5,202.8 609.0,209.5 608.4,212.0" fill="none" stroke="#f5807c" stroke-width="1.05" stroke-linecap="round"/>
<path d="M673.5,96.2 C672.9,99.3 669.0,108.5 669.8,114.9 C670.6,121.3 676.9,128.2 678.5,134.8 C680.1,141.4 680.5,148.5 679.7,154.7 C678.9,160.9 673.7,165.9 673.5,172.1 C673.3,178.3 677.0,185.3 678.5,192.0 C680.0,198.7 681.6,208.7 682.2,212.0" fill="none" stroke="#fde3de" stroke-width="3.6500000000000004" stroke-linecap="round" opacity="0.75"/>
<path d="M673.5,96.2 C672.9,99.3 669.0,108.5 669.8,114.9 C670.6,121.3 676.9,128.2 678.5,134.8 C680.1,141.4 680.5,148.5 679.7,154.7 C678.9,160.9 673.7,165.9 673.5,172.1 C673.3,178.3 677.0,185.3 678.5,192.0 C680.0,198.7 681.6,208.7 682.2,212.0" fill="none" stroke="#f5807c" stroke-width="1.05" stroke-linecap="round"/>
</g>
<rect x="559.9" y="109.2" width="7.6" height="7.6" rx="0.8" fill="#98c886" opacity="0.9" transform="rotate(0 563.7 113.0)"/>
<rect x="562.9" y="139.3" width="7.6" height="7.6" rx="0.8" fill="#98c886" opacity="0.9" transform="rotate(0 566.7 143.1)"/>
<rect x="558.7" y="167.2" width="7.6" height="7.6" rx="0.8" fill="#98c886" opacity="0.9" transform="rotate(0 562.5 171.0)"/>
<rect x="591.7" y="147.7" width="7.6" height="7.6" rx="0.8" fill="#98c886" opacity="0.9" transform="rotate(0 595.5 151.5)"/>
<rect x="595.9" y="107.1" width="7.6" height="7.6" rx="0.8" fill="#98c886" opacity="0.45" transform="rotate(0 599.7 110.9)"/>
<rect x="632.0" y="110.7" width="7.6" height="7.6" rx="0.8" fill="#98c886" opacity="0.9" transform="rotate(15 635.8 114.5)"/>
<rect x="659.3" y="100.2" width="7.6" height="7.6" rx="0.8" fill="#98c886" opacity="0.9" transform="rotate(0 663.1 104.0)"/>
<rect x="700.5" y="101.7" width="7.6" height="7.6" rx="0.8" fill="#98c886" opacity="0.9" transform="rotate(0 704.3 105.5)"/>
<rect x="643.4" y="145.9" width="7.6" height="7.6" rx="0.8" fill="#98c886" opacity="0.9" transform="rotate(10 647.2 149.7)"/>
<rect x="666.8" y="149.8" width="7.6" height="7.6" rx="0.8" fill="#98c886" opacity="0.9" transform="rotate(0 670.6 153.6)"/>
<rect x="709.5" y="145.9" width="7.6" height="7.6" rx="0.8" fill="#98c886" opacity="0.9" transform="rotate(0 713.3 149.7)"/>
<rect x="637.4" y="178.3" width="7.6" height="7.6" rx="0.8" fill="#98c886" opacity="0.9" transform="rotate(0 641.2 182.1)"/>
<rect x="629.9" y="189.4" width="7.6" height="7.6" rx="0.8" fill="#98c886" opacity="0.9" transform="rotate(0 633.7 193.2)"/>
<rect x="587.8" y="191.9" width="7.6" height="7.6" rx="0.8" fill="#98c886" opacity="0.9" transform="rotate(5 591.6 195.7)"/>
<rect x="670.4" y="207.8" width="7.6" height="7.6" rx="0.8" fill="#98c886" opacity="0.9" transform="rotate(15 674.2 211.6)"/>
<rect x="706.5" y="196.4" width="7.6" height="7.6" rx="0.8" fill="#98c886" opacity="0.9" transform="rotate(0 710.3 200.2)"/>
<polygon points="547.0,103.1 558.1,100.1 547.0,97.2" fill="#f58a42" opacity="0.92"/>
<circle cx="546.0" cy="100.1" r="3.1" fill="url(#ion)"/>
<polygon points="547.0,124.1 558.1,121.2 547.0,118.2" fill="#f58a42" opacity="0.92"/>
<circle cx="546.0" cy="121.2" r="3.1" fill="url(#ion)"/>
<polygon points="546.7,141.0 558.0,139.0 547.2,135.1" fill="#f58a42" opacity="0.92"/>
<circle cx="546.0" cy="138.0" r="3.1" fill="url(#ion)"/>
<polygon points="548.5,168.0 559.6,165.0 548.5,162.1" fill="#f58a42" opacity="0.92"/>
<circle cx="547.5" cy="165.0" r="3.1" fill="url(#ion)"/>
<polygon points="548.2,193.6 559.5,191.6 548.7,187.7" fill="#f58a42" opacity="0.92"/>
<circle cx="547.5" cy="190.5" r="3.1" fill="url(#ion)"/>
<polygon points="548.8,214.0 560.1,212.0 549.3,208.1" fill="#f58a42" opacity="0.92"/>
<circle cx="548.1" cy="211.0" r="3.1" fill="url(#ion)"/>
<circle cx="580.5" cy="116.9" r="3.1" fill="url(#ion)"/>
<circle cx="575.1" cy="162.0" r="3.1" fill="url(#ion)"/>
<circle cx="580.5" cy="187.2" r="3.1" fill="url(#ion)"/>
<circle cx="579.0" cy="208.3" r="3.1" fill="url(#ion)"/>
<circle cx="589.2" cy="135.9" r="3.1" fill="url(#ion)"/>
<circle cx="592.5" cy="101.9" r="3.1" fill="url(#ion)"/>
<polygon points="604.0,104.9 615.1,101.9 604.0,99.0" fill="#f58a42" opacity="0.92"/>
<circle cx="603.0" cy="101.9" r="3.1" fill="url(#ion)"/>
<polygon points="602.1,130.8 612.5,126.0 601.1,125.0" fill="#f58a42" opacity="0.92"/>
<circle cx="600.6" cy="128.1" r="3.1" fill="url(#ion)"/>
<circle cx="616.6" cy="133.5" r="3.1" fill="url(#ion)"/>
<polygon points="604.1,159.7 615.6,158.7 605.1,153.9" fill="#f58a42" opacity="0.92"/>
<circle cx="603.6" cy="156.6" r="3.1" fill="url(#ion)"/>
<polygon points="603.0,182.8 613.4,177.9 602.0,177.0" fill="#f58a42" opacity="0.92"/>
<circle cx="601.5" cy="180.0" r="3.1" fill="url(#ion)"/>
<circle cx="611.7" cy="193.5" r="3.1" fill="url(#ion)"/>
<polygon points="601.5,206.5 611.9,201.7 600.5,200.7" fill="#f58a42" opacity="0.92"/>
<circle cx="600.0" cy="203.8" r="3.1" fill="url(#ion)"/>
<circle cx="633.1" cy="126.6" r="3.1" fill="url(#ion)"/>
<circle cx="629.8" cy="166.5" r="3.1" fill="url(#ion)"/>
<circle cx="638.2" cy="153.6" r="3.1" fill="url(#ion)"/>
<circle cx="631.3" cy="210.7" r="3.1" fill="url(#ion)"/>
<circle cx="653.2" cy="101.0" r="3.1" fill="url(#ion)"/>
<polygon points="649.4,124.2 660.7,122.2 649.9,118.3" fill="#f58a42" opacity="0.92"/>
<circle cx="648.7" cy="121.2" r="3.1" fill="url(#ion)"/>
<circle cx="665.2" cy="132.6" r="3.1" fill="url(#ion)"/>
<circle cx="663.1" cy="147.6" r="3.1" fill="url(#ion)"/>
<polygon points="649.2,162.7 660.6,161.7 650.2,156.9" fill="#f58a42" opacity="0.92"/>
<circle cx="648.7" cy="159.6" r="3.1" fill="url(#ion)"/>
<circle cx="661.0" cy="177.6" r="3.1" fill="url(#ion)"/>
<circle cx="640.6" cy="182.7" r="3.1" fill="url(#ion)"/>
<polygon points="646.8,198.7 658.2,197.8 647.8,192.9" fill="#f58a42" opacity="0.92"/>
<circle cx="646.3" cy="195.7" r="3.1" fill="url(#ion)"/>
<circle cx="654.7" cy="204.7" r="3.1" fill="url(#ion)"/>
<circle cx="668.2" cy="195.7" r="3.1" fill="url(#ion)"/>
<polygon points="681.2,116.9 692.3,113.9 681.2,111.0" fill="#f58a42" opacity="0.92"/>
<circle cx="680.2" cy="113.9" r="3.1" fill="url(#ion)"/>
<circle cx="676.6" cy="122.1" r="3.1" fill="url(#ion)"/>
<circle cx="688.6" cy="123.0" r="3.1" fill="url(#ion)"/>
<circle cx="694.7" cy="98.6" r="3.1" fill="url(#ion)"/>
<circle cx="705.8" cy="129.0" r="3.1" fill="url(#ion)"/>
<circle cx="688.6" cy="138.0" r="3.1" fill="url(#ion)"/>
<polygon points="687.9,160.5 699.2,158.6 688.4,154.7" fill="#f58a42" opacity="0.92"/>
<circle cx="687.1" cy="157.5" r="3.1" fill="url(#ion)"/>
<circle cx="703.7" cy="153.0" r="3.1" fill="url(#ion)"/>
<circle cx="671.2" cy="164.1" r="3.1" fill="url(#ion)"/>
<circle cx="709.4" cy="161.7" r="3.1" fill="url(#ion)"/>
<circle cx="690.7" cy="180.0" r="3.1" fill="url(#ion)"/>
<circle cx="707.9" cy="181.2" r="3.1" fill="url(#ion)"/>
<circle cx="698.3" cy="191.1" r="3.1" fill="url(#ion)"/>
<polygon points="684.9,199.6 696.2,197.6 685.4,193.7" fill="#f58a42" opacity="0.92"/>
<circle cx="684.1" cy="196.6" r="3.1" fill="url(#ion)"/>
<circle cx="690.7" cy="212.8" r="3.1" fill="url(#ion)"/>
<rect x="533.6" y="186" width="12" height="30.5" fill="none" stroke="#666" stroke-width="1.1" stroke-dasharray="4,2.4"/>
<path d="M535.5,219.5 L531,252 M546,217 L717,252" fill="none" stroke="#5a5a5a" stroke-width="1.15" stroke-dasharray="6,3"/>
<line x1="33.8" y1="218.7" x2="33.8" y2="84" stroke="#555" stroke-width="1.25"/>
<polygon points="31.9,84.6 33.8,80.4 35.699999999999996,84.6" fill="#555"/>
<line x1="33.8" y1="218.7" x2="237" y2="218.7" stroke="#555" stroke-width="1.25"/>
<polygon points="236.4,216.79999999999998 240.8,218.7 236.4,220.6" fill="#555"/>
<line x1="219.6" y1="93.5" x2="219.6" y2="218.7" stroke="#4a5555" stroke-width="1.2" stroke-dasharray="3.6,2.6"/>
<line x1="280.5" y1="218.7" x2="280.5" y2="84" stroke="#555" stroke-width="1.25"/>
<polygon points="278.6,84.6 280.5,80.4 282.4,84.6" fill="#555"/>
<line x1="280.5" y1="218.7" x2="485" y2="218.7" stroke="#555" stroke-width="1.25"/>
<polygon points="484.4,216.79999999999998 488.8,218.7 484.4,220.6" fill="#555"/>
<line x1="400.8" y1="93.5" x2="400.8" y2="218.7" stroke="#4a5555" stroke-width="1.2" stroke-dasharray="3.6,2.6"/>
<line x1="526.5" y1="218.7" x2="526.5" y2="84" stroke="#555" stroke-width="1.25"/>
<polygon points="524.6,84.6 526.5,80.4 528.4,84.6" fill="#555"/>
<line x1="526.5" y1="218.7" x2="730.5" y2="218.7" stroke="#555" stroke-width="1.25"/>
<polygon points="729.9,216.79999999999998 734.3,218.7 729.9,220.6" fill="#555"/>
<line x1="585.6" y1="93.5" x2="585.6" y2="218.7" stroke="#4a5555" stroke-width="1.2" stroke-dasharray="3.6,2.6"/>
<path d="M33.8,185.7 C40,165 50,152 60.8,142.8 C72,132 80,125 87.8,120 C102,112 114,109 128,106.6 C145,103 155,100.8 169,98.9 C190,96.5 205,95.4 219.6,94.8" fill="none" stroke="#f40a0a" stroke-width="1.6"/>
<path d="M281,154 C283,143 287,136 294,129 C303,119 314,112 328,107 C338,103 347,100 358,98 C372,95.8 386,94.7 400.8,94.5" fill="none" stroke="#f40a0a" stroke-width="1.6"/>
<path d="M526.5,125.8 C528,117 532,110 540,104.5 C550,98.5 566,95.5 585.6,94.7" fill="none" stroke="#f40a0a" stroke-width="1.6"/>
<text x="17" y="41" font-size="21" text-anchor="start" font-weight="bold" fill="#000" stroke="#000" stroke-width="0.3" font-family='"Liberation Sans", sans-serif' font-style="normal" textLength="10" lengthAdjust="spacingAndGlyphs" >a</text>
<text x="253.8" y="46" font-size="21" text-anchor="start" font-weight="bold" fill="#000" stroke="#000" stroke-width="0.3" font-family='"Liberation Sans", sans-serif' font-style="normal" textLength="11" lengthAdjust="spacingAndGlyphs" >b</text>
<text x="502.5" y="47" font-size="21" text-anchor="start" font-weight="bold" fill="#000" stroke="#000" stroke-width="0.3" font-family='"Liberation Sans", sans-serif' font-style="normal" textLength="9.5" lengthAdjust="spacingAndGlyphs" >c</text>
<text x="82" y="41.5" font-size="11.5" text-anchor="start" font-weight="bold" fill="#111" stroke="#111" stroke-width="0.3" font-family='"Liberation Sans", sans-serif' font-style="normal" textLength="80" lengthAdjust="spacingAndGlyphs" >PPH electrolyte</text>
<text x="333" y="41.5" font-size="11.5" text-anchor="start" font-weight="bold" fill="#8ba6d9" stroke="#8ba6d9" stroke-width="0.3" font-family='"Liberation Sans", sans-serif' font-style="normal" textLength="87" lengthAdjust="spacingAndGlyphs" >PHZO electrolyte</text>
<text x="581" y="41.5" font-size="11.5" text-anchor="start" font-weight="bold" fill="#f5986c" stroke="#f5986c" stroke-width="0.3" font-family='"Liberation Sans", sans-serif' font-style="normal" textLength="87" lengthAdjust="spacingAndGlyphs" >PHZB electrolyte</text>
<rect x="33" y="57" width="62" height="15" fill="url(#sand)"/>
<rect x="280" y="57" width="131" height="15" fill="url(#sand)"/>
<rect x="525.5" y="57" width="199" height="15" fill="url(#sand)"/>
<text x="35.5" y="68.3" font-size="11.5" text-anchor="start" font-weight="normal" fill="#222" stroke="#222" stroke-width="0.3" font-family='"Liberation Serif", serif' font-style="normal" textLength="67.5" lengthAdjust="spacingAndGlyphs" >Sand’s time "τ"</text>
<text x="282.5" y="68.3" font-size="11.5" text-anchor="start" font-weight="normal" fill="#222" stroke="#222" stroke-width="0.3" font-family='"Liberation Serif", serif' font-style="normal" textLength="67.5" lengthAdjust="spacingAndGlyphs" >Sand’s time "τ"</text>
<text x="528" y="68.3" font-size="11.5" text-anchor="start" font-weight="normal" fill="#222" stroke="#222" stroke-width="0.3" font-family='"Liberation Serif", serif' font-style="normal" textLength="67.5" lengthAdjust="spacingAndGlyphs" >Sand’s time "τ"</text>
<text x="15.8" y="82.8" font-size="9.6" fill="#f01010" stroke="#f01010" stroke-width="0.45" font-style="italic" font-family='"Liberation Sans", sans-serif' textLength="5.6" lengthAdjust="spacingAndGlyphs">C</text>
<text x="21.4" y="84.8" font-size="6" fill="#f01010" stroke="#f01010" stroke-width="0.2" font-family='"Liberation Sans", sans-serif' textLength="7.2" lengthAdjust="spacingAndGlyphs">Li+</text>
<text x="262.6" y="82.8" font-size="9.6" fill="#f01010" stroke="#f01010" stroke-width="0.45" font-style="italic" font-family='"Liberation Sans", sans-serif' textLength="5.6" lengthAdjust="spacingAndGlyphs">C</text>
<text x="268.20000000000005" y="84.8" font-size="6" fill="#f01010" stroke="#f01010" stroke-width="0.2" font-family='"Liberation Sans", sans-serif' textLength="7.2" lengthAdjust="spacingAndGlyphs">Li+</text>
<text x="508.4" y="82.8" font-size="9.6" fill="#f01010" stroke="#f01010" stroke-width="0.45" font-style="italic" font-family='"Liberation Sans", sans-serif' textLength="5.6" lengthAdjust="spacingAndGlyphs">C</text>
<text x="514.0" y="84.8" font-size="6" fill="#f01010" stroke="#f01010" stroke-width="0.2" font-family='"Liberation Sans", sans-serif' textLength="7.2" lengthAdjust="spacingAndGlyphs">Li+</text>
<text x="41.9" y="92.3" font-size="9.8" text-anchor="start" font-weight="normal" fill="#1a1a1a" stroke="#1a1a1a" stroke-width="0.3" font-family='"Liberation Sans", sans-serif' font-style="normal" textLength="110.8" lengthAdjust="spacingAndGlyphs" >Wide ion depletion region</text>
<text x="166" y="92.3" font-size="9.8" text-anchor="start" font-weight="normal" fill="#1a1a1a" stroke="#1a1a1a" stroke-width="0.3" font-family='"Liberation Sans", sans-serif' font-style="normal" textLength="67" lengthAdjust="spacingAndGlyphs" >Bulk electrolyte</text>
<text x="294" y="92.3" font-size="9.8" text-anchor="start" font-weight="normal" fill="#1a1a1a" stroke="#1a1a1a" stroke-width="0.3" font-family='"Liberation Sans", sans-serif' font-style="normal" textLength="111" lengthAdjust="spacingAndGlyphs" >Wide ion depletion region</text>
<text x="417" y="92.3" font-size="9.8" text-anchor="start" font-weight="normal" fill="#1a1a1a" stroke="#1a1a1a" stroke-width="0.3" font-family='"Liberation Sans", sans-serif' font-style="normal" textLength="66" lengthAdjust="spacingAndGlyphs" >Bulk electrolyte</text>
<text x="531" y="92.5" font-size="9.8" text-anchor="start" font-weight="normal" fill="#1a1a1a" stroke="#1a1a1a" stroke-width="0.3" font-family='"Liberation Sans", sans-serif' font-style="normal" textLength="120" lengthAdjust="spacingAndGlyphs" >Narrow ion depletion region</text>
<text x="662" y="92.5" font-size="9.8" text-anchor="start" font-weight="normal" fill="#1a1a1a" stroke="#1a1a1a" stroke-width="0.3" font-family='"Liberation Sans", sans-serif' font-style="normal" textLength="66" lengthAdjust="spacingAndGlyphs" >Bulk electrolyte</text>
<text x="32.8" y="227.9" font-size="10" text-anchor="middle" font-weight="normal" fill="#1a1a1a" stroke="#1a1a1a" stroke-width="0.3" font-family='"Liberation Sans", sans-serif' font-style="normal" textLength="5.3" lengthAdjust="spacingAndGlyphs" >0</text>
<text x="133.2" y="227.9" font-size="9.8" text-anchor="middle" font-weight="normal" fill="#1a1a1a" stroke="#1a1a1a" stroke-width="0.3" font-family='"Liberation Sans", sans-serif' font-style="normal" textLength="36.2" lengthAdjust="spacingAndGlyphs" >Distance</text>
<text x="219.6" y="227.9" font-size="10.5" text-anchor="middle" font-weight="normal" fill="#1a1a1a" stroke="#1a1a1a" stroke-width="0.3" font-family='"Liberation Sans", sans-serif' font-style="italic" >x</text>
<text x="280" y="227.9" font-size="10" text-anchor="middle" font-weight="normal" fill="#1a1a1a" stroke="#1a1a1a" stroke-width="0.3" font-family='"Liberation Sans", sans-serif' font-style="normal" textLength="5.3" lengthAdjust="spacingAndGlyphs" >0</text>
<text x="381" y="227.9" font-size="9.8" text-anchor="middle" font-weight="normal" fill="#1a1a1a" stroke="#1a1a1a" stroke-width="0.3" font-family='"Liberation Sans", sans-serif' font-style="normal" textLength="36.2" lengthAdjust="spacingAndGlyphs" >Distance</text>
<text x="477.5" y="227.9" font-size="10.5" text-anchor="middle" font-weight="normal" fill="#1a1a1a" stroke="#1a1a1a" stroke-width="0.3" font-family='"Liberation Sans", sans-serif' font-style="italic" >x</text>
<text x="527" y="227.9" font-size="10" text-anchor="middle" font-weight="normal" fill="#1a1a1a" stroke="#1a1a1a" stroke-width="0.3" font-family='"Liberation Sans", sans-serif' font-style="normal" textLength="5.3" lengthAdjust="spacingAndGlyphs" >0</text>
<text x="626.5" y="227.9" font-size="9.8" text-anchor="middle" font-weight="normal" fill="#1a1a1a" stroke="#1a1a1a" stroke-width="0.3" font-family='"Liberation Sans", sans-serif' font-style="normal" textLength="36.2" lengthAdjust="spacingAndGlyphs" >Distance</text>
<text x="723.4" y="227.9" font-size="10.5" text-anchor="middle" font-weight="normal" fill="#1a1a1a" stroke="#1a1a1a" stroke-width="0.3" font-family='"Liberation Sans", sans-serif' font-style="italic" >x</text>
<text x="25.5" y="147.5" font-size="9.5" text-anchor="middle" font-weight="normal" fill="#1a1a1a" stroke="#1a1a1a" stroke-width="0.3" font-family='"Liberation Sans", sans-serif' font-style="normal" textLength="71" lengthAdjust="spacingAndGlyphs" transform="rotate(-90 25.5 147.5)">Li anode surface</text>
<text x="272" y="147.5" font-size="9.5" text-anchor="middle" font-weight="normal" fill="#1a1a1a" stroke="#1a1a1a" stroke-width="0.3" font-family='"Liberation Sans", sans-serif' font-style="normal" textLength="71" lengthAdjust="spacingAndGlyphs" transform="rotate(-90 272 147.5)">Li anode surface</text>
<text x="519" y="147.5" font-size="9.5" text-anchor="middle" font-weight="normal" fill="#1a1a1a" stroke="#1a1a1a" stroke-width="0.3" font-family='"Liberation Sans", sans-serif' font-style="normal" textLength="71" lengthAdjust="spacingAndGlyphs" transform="rotate(-90 519 147.5)">Li anode surface</text>
<rect x="749.3" y="51.2" width="13" height="11.2" rx="1" fill="#b5c4e8"/>
<text x="755.8" y="73.6" font-size="10" text-anchor="middle" font-weight="normal" fill="#1a1a1a" stroke="#1a1a1a" stroke-width="0.3" font-family='"Liberation Sans", sans-serif' font-style="normal" textLength="39.2" lengthAdjust="spacingAndGlyphs" >ZnO filler</text>
<rect x="749.3" y="89.3" width="13" height="11.2" rx="1" fill="#9ccb86"/>
<text x="756.2" y="113.6" font-size="10" text-anchor="middle" font-weight="normal" fill="#1a1a1a" stroke="#1a1a1a" stroke-width="0.3" font-family='"Liberation Sans", sans-serif' font-style="normal" textLength="38.4" lengthAdjust="spacingAndGlyphs" >ZnB filler</text>
<rect x="744.8" y="131" width="23.9" height="12.9" rx="2.2" fill="#a9d6d1"/>
<rect x="747" y="133" width="19.5" height="9" rx="3" fill="#c4e3df" filter="url(#eb)"/>
<path d="M745.4,137.2 L751,136.4 M750.2,133.2 C752,134.2 752.6,135.6 752.2,137 C751.9,138.3 751.5,139.2 751,140 M754.2,134.8 L758.6,134.8 M761,133.6 L761,142 M761,133.4 C762,132.8 763.4,132.7 764.6,132.8 M761.4,136.4 C763.2,136.9 765,137.8 766.6,138.8" fill="none" stroke="#fbdcd8" stroke-width="2.4" stroke-linecap="round" opacity="0.8"/>
<path d="M745.4,137.2 L751,136.4 M750.2,133.2 C752,134.2 752.6,135.6 752.2,137 C751.9,138.3 751.5,139.2 751,140 M754.2,134.8 L758.6,134.8 M761,133.6 L761,142 M761,133.4 C762,132.8 763.4,132.7 764.6,132.8 M761.4,136.4 C763.2,136.9 765,137.8 766.6,138.8" fill="none" stroke="#f47f84" stroke-width="1.1" stroke-linecap="round"/>
<text x="756.2" y="155.8" font-size="10" text-anchor="middle" font-weight="normal" fill="#1a1a1a" stroke="#1a1a1a" stroke-width="0.3" font-family='"Liberation Sans", sans-serif' font-style="normal" textLength="42.3" lengthAdjust="spacingAndGlyphs" >PVDF-HFP</text>
<rect x="744.4" y="174.5" width="23.6" height="10.5" rx="1.5" fill="#a9a9a9"/>
<text x="756.8" y="200.7" font-size="10" text-anchor="middle" font-weight="normal" fill="#1a1a1a" stroke="#1a1a1a" stroke-width="0.3" font-family='"Liberation Sans", sans-serif' font-style="normal" textLength="33.6" lengthAdjust="spacingAndGlyphs" >Li metal</text>
<circle cx="756.0" cy="222.4" r="4.9" fill="url(#ion)"/>
<path d="M753.6,222 L757.6,222 M755.6,220 L755.6,224" stroke="#fff" stroke-width="1.1" opacity="0.85" stroke-linecap="round"/>
<text x="756.4" y="240" font-size="10" text-anchor="middle" font-weight="normal" fill="#1a1a1a" stroke="#1a1a1a" stroke-width="0.3" font-family='"Liberation Sans", sans-serif' font-style="normal" textLength="26.8" lengthAdjust="spacingAndGlyphs" >Li ions</text>
<path d="M239.5,254.5 C243,253 252,254.2 257.5,253.6 L258,263 C253,264 245,263.2 239.8,264 Z" fill="#f5b400"/>
<text x="248.3" y="274.2" font-size="10.5" text-anchor="middle" font-weight="normal" fill="#1a1a1a" stroke="#1a1a1a" stroke-width="0.3" font-family='"Liberation Sans", sans-serif' font-style="normal" textLength="31.5" lengthAdjust="spacingAndGlyphs" >Organic</text>
<text x="248.8" y="286.6" font-size="10.5" text-anchor="middle" font-weight="normal" fill="#1a1a1a" stroke="#1a1a1a" stroke-width="0.3" font-family='"Liberation Sans", sans-serif' font-style="normal" textLength="52.8" lengthAdjust="spacingAndGlyphs" >components</text>
<path d="M242,298.5 C244,296.5 247,298 249.5,297.2 C252,296 256,296.8 257,299.5 C257.8,303 257.5,307 255.5,309.5 C252,311.5 245,311 242.5,309 C240.8,306 240.8,301 242,298.5 Z" fill="#f57c82"/>
<text x="248.3" y="324" font-size="10.5" text-anchor="middle" font-weight="normal" fill="#1a1a1a" stroke="#1a1a1a" stroke-width="0.3" font-family='"Liberation Sans", sans-serif' font-style="normal" textLength="11.5" lengthAdjust="spacingAndGlyphs" >LiF</text>
<path d="M489,252 C493,250.6 502,252 508,251 C508.8,256 507.8,262 508.5,266 C503,267 495,266.2 488.6,266.6 C488,262 488.2,256 489,252 Z" fill="#8f88b4"/>
<text x="499.2" y="279" font-size="10.5" text-anchor="middle" fill="#1a1a1a" stroke="#1a1a1a" stroke-width="0.25" font-family='"Liberation Sans", sans-serif' textLength="25.2" lengthAdjust="spacingAndGlyphs">LiB<tspan font-size="6.5" dy="2">x</tspan><tspan dy="-2">O</tspan><tspan font-size="6.5" dy="2">y</tspan></text>
<path d="M487.3,304.5 C486.6,298 490,292.5 498,291.8 C505,292 509,296.5 508.4,303 C508.2,305.5 507,306.6 504.5,306.6 L491,306.3 C488.8,306.2 487.6,305.8 487.3,304.5 Z" fill="#a8d8f6"/>
<text x="499" y="322.3" font-size="10.5" text-anchor="middle" font-weight="normal" fill="#1a1a1a" stroke="#1a1a1a" stroke-width="0.3" font-family='"Liberation Sans", sans-serif' font-style="normal" textLength="17" lengthAdjust="spacingAndGlyphs" >LiZn</text>
<path d="M33.7,287.1 C35.1,287.3 39.2,288.7 42.2,288.3 C45.3,287.9 47.9,285.8 52.0,284.6 C56.0,283.4 62.1,282.2 66.6,281.0 C71.1,279.7 74.3,278.0 78.8,277.3 C83.3,276.6 89.4,277.1 93.5,276.8 C97.5,276.5 100.4,276.9 103.2,275.3 C106.1,273.8 107.9,270.7 110.5,267.5 C113.2,264.4 116.9,258.8 119.1,256.5 C121.3,254.3 122.3,254.1 124.0,254.1 C125.6,254.1 126.6,254.5 128.9,256.5 C131.1,258.6 134.3,262.6 137.4,266.3 C140.4,270.0 144.3,275.9 147.2,278.5 C150.0,281.2 151.2,281.2 154.5,282.2 C157.7,283.2 162.2,283.8 166.7,284.6 C171.2,285.4 175.6,286.4 181.3,287.1 C187.0,287.7 194.6,288.3 200.9,288.3 C207.2,288.3 216.1,287.3 219.2,287.1 L219.6,316 L33.5,316 Z" fill="#dde9d2"/>
<path d="M33.7,315.9 C35.5,315.4 39.2,313.9 44.6,313.4 C50.1,312.9 58.9,312.7 66.6,312.7 C74.3,312.7 85.1,313.4 91.0,313.4 C96.9,313.4 98.7,314.4 102.0,312.7 C105.3,310.9 107.9,306.8 110.5,302.9 C113.2,299.1 115.9,292.3 117.9,289.5 C119.8,286.6 120.8,286.0 122.3,285.8 C123.7,285.6 124.7,286.4 126.4,288.3 C128.1,290.1 130.4,293.8 132.5,296.8 C134.7,299.9 137.4,304.1 139.3,306.6 C141.3,309.1 139.7,310.9 144.2,311.9 C148.8,313.0 158.1,312.4 166.7,312.7 C175.3,312.9 187.2,312.9 196.0,313.4 C204.7,313.9 215.3,315.4 219.2,315.9 L219.6,329.5 L33.5,329.5 Z" fill="#a8a8a8"/>
<path d="M36.8,295.1 L47.1,291.4 L61.7,289.7 L72.0,292.7 L74.2,302.9 L69.8,308.3 L59.3,311.0 L38.1,308.3Z" fill="#f5b400" stroke="#f5b400" stroke-width="1.8" stroke-linejoin="round"/>
<path d="M78.6,281.7 L88.1,280.7 L93.0,306.1 L91.0,309.8 L88.6,308.3Z" fill="#f5b400" stroke="#f5b400" stroke-width="1.8" stroke-linejoin="round"/>
<path d="M96.4,293.2 L108.6,275.3 L114.5,274.6 L118.1,278.8 L106.6,299.5 L102.5,298.8Z" fill="#f5b400" stroke="#f5b400" stroke-width="1.8" stroke-linejoin="round"/>
<path d="M116.9,265.3 L124.0,257.8 L129.3,260.9 L143.3,279.7 L138.4,288.5 L132.8,283.9 L119.6,272.2Z" fill="#f5b400" stroke="#f5b400" stroke-width="1.8" stroke-linejoin="round"/>
<path d="M155.7,285.6 L166.7,288.0 L178.2,293.9 L180.8,309.5 L174.0,311.0 L157.4,305.8 L155.0,296.8Z" fill="#f5b400" stroke="#f5b400" stroke-width="1.8" stroke-linejoin="round"/>
<path d="M185.7,293.9 L198.4,292.9 L212.3,295.1 L215.7,306.6 L210.1,311.0 L196.0,310.0 L186.0,308.3Z" fill="#f5b400" stroke="#f5b400" stroke-width="1.8" stroke-linejoin="round"/>
<path d="M77.1,305.6 L80.3,302.4 L83.9,302.9 L85.4,309.8 L79.3,310.2Z" fill="#f57c82" stroke="#f57c82" stroke-width="1.8" stroke-linejoin="round"/>
<path d="M138.6,293.4 L143.0,290.7 L148.1,291.4 L151.3,298.0 L146.4,302.2 L140.3,300.0Z" fill="#f57c82" stroke="#f57c82" stroke-width="1.8" stroke-linejoin="round"/>
<path d="M124.7,320.0 C124.4,318.7 122.6,314.8 122.8,311.9 C122.9,309.1 125.5,306.3 125.7,302.9 C125.8,299.5 124.1,293.4 123.7,291.4 M125.5,293.3 L123.7,291.4 L122.6,293.8" fill="none" stroke="#f3dcd6" stroke-width="2.6" stroke-linecap="round" stroke-linejoin="round"/>
<path d="M124.7,320.0 C124.4,318.7 122.6,314.8 122.8,311.9 C122.9,309.1 125.5,306.3 125.7,302.9 C125.8,299.5 124.1,293.4 123.7,291.4 M125.5,293.3 L123.7,291.4 L122.6,293.8" fill="none" stroke="#4a4040" stroke-width="0.8" stroke-linecap="round" stroke-linejoin="round"/>
<path d="M115.9,319.3 C115.8,318.4 115.7,315.1 115.4,313.9 C115.1,312.7 114.9,312.4 114.2,311.9 C113.5,311.5 111.8,311.3 111.3,311.2 M113.7,310.3 L111.3,311.2 L113.0,313.2" fill="none" stroke="#f3dcd6" stroke-width="2.6" stroke-linecap="round" stroke-linejoin="round"/>
<path d="M115.9,319.3 C115.8,318.4 115.7,315.1 115.4,313.9 C115.1,312.7 114.9,312.4 114.2,311.9 C113.5,311.5 111.8,311.3 111.3,311.2 M113.7,310.3 L111.3,311.2 L113.0,313.2" fill="none" stroke="#4a4040" stroke-width="0.8" stroke-linecap="round" stroke-linejoin="round"/>
<path d="M131.3,319.3 C131.3,318.3 131.1,314.7 131.5,313.4 C131.9,312.1 132.7,311.9 133.7,311.5 C134.8,311.0 137.2,310.6 137.9,310.5 M136.1,312.4 L137.9,310.5 L135.5,309.5" fill="none" stroke="#f3dcd6" stroke-width="2.6" stroke-linecap="round" stroke-linejoin="round"/>
<path d="M131.3,319.3 C131.3,318.3 131.1,314.7 131.5,313.4 C131.9,312.1 132.7,311.9 133.7,311.5 C134.8,311.0 137.2,310.6 137.9,310.5 M136.1,312.4 L137.9,310.5 L135.5,309.5" fill="none" stroke="#4a4040" stroke-width="0.8" stroke-linecap="round" stroke-linejoin="round"/>
<text x="115.8" y="302.6" font-size="9.5" fill="#4a4a4a" font-family='"Liberation Sans", sans-serif'>e<tspan font-size="5.7" dy="-4.0">-</tspan></text>
<text x="104.5" y="317.0" font-size="9.5" fill="#4a4a4a" font-family='"Liberation Sans", sans-serif'>e<tspan font-size="5.7" dy="-4.0">-</tspan></text>
<text x="131.5" y="308.5" font-size="9.5" fill="#4a4a4a" font-family='"Liberation Sans", sans-serif'>e<tspan font-size="5.7" dy="-4.0">-</tspan></text>
<rect x="33.5" y="251.8" width="186.1" height="77.6" fill="none" stroke="#5a5a5a" stroke-width="1.2" stroke-dasharray="6,3"/>
<path d="M281.4,282.2 C283.1,282.5 288.3,284.3 291.6,284.1 C295.0,283.9 297.3,281.9 301.4,281.0 C305.5,280.0 312.2,279.5 316.1,278.5 C319.9,277.5 322.4,277.3 324.6,274.8 C326.8,272.4 327.4,267.1 329.5,263.9 C331.5,260.6 334.8,256.8 336.8,255.3 C338.8,253.8 339.9,253.8 341.7,254.8 C343.5,255.9 345.5,258.5 347.8,261.4 C350.0,264.4 352.3,269.8 355.1,272.4 C358.0,275.1 360.4,276.3 364.9,277.3 C369.3,278.3 378.4,279.5 382.0,278.5 C385.5,277.5 384.7,273.0 386.3,271.2 C388.0,269.4 389.6,268.1 391.7,267.5 C393.8,267.0 396.8,267.0 399.0,268.0 C401.3,269.0 403.3,271.7 405.1,273.6 C407.0,275.6 408.1,279.2 410.0,279.7 C411.9,280.3 414.4,276.8 416.6,276.8 C418.9,276.8 419.9,278.8 423.4,279.7 C427.0,280.6 433.2,281.4 438.1,282.2 C443.0,283.0 447.9,283.8 452.7,284.6 C457.5,285.4 464.5,286.6 466.9,287.1 L467,312 L281.3,312 Z" fill="#dde9d2"/>
<path d="M281.4,310.2 C283.1,309.8 287.5,308.6 291.6,307.8 C295.8,307.0 301.4,305.9 306.3,305.4 C311.2,304.8 316.7,305.0 320.9,304.6 C325.2,304.2 329.5,304.4 331.9,302.9 C334.4,301.4 334.6,298.2 335.6,295.6 C336.6,293.0 337.1,288.9 338.0,287.1 C338.9,285.2 339.5,284.6 340.9,284.6 C342.4,284.6 344.4,285.4 346.6,287.1 C348.7,288.7 351.4,291.6 353.9,294.4 C356.3,297.1 357.8,301.8 361.2,303.7 C364.7,305.5 370.0,305.2 374.6,305.4 C379.3,305.5 385.8,306.1 389.3,304.6 C392.7,303.2 394.1,299.5 395.4,296.8 C396.7,294.1 396.5,290.3 397.1,288.3 C397.7,286.2 398.2,284.6 399.0,284.6 C399.9,284.6 401.0,286.4 402.0,288.3 C403.0,290.1 404.2,294.0 405.1,295.6 C406.1,297.2 406.8,298.0 407.6,298.0 C408.4,298.0 409.2,295.8 410.0,295.6 C410.8,295.4 411.4,295.2 412.5,296.8 C413.5,298.4 413.5,303.5 416.1,305.4 C418.8,307.2 423.0,307.4 428.3,307.8 C433.6,308.2 441.4,307.6 447.9,307.8 C454.3,308.0 463.7,308.8 466.9,309.0 L467,329.5 L281.3,329.5 Z" fill="#a8a8a8"/>
<path d="M284.3,294.9 L291.6,292.2 L300.2,290.2 L308.2,292.4 L308.7,300.7 L301.4,302.9 L284.8,303.4Z" fill="#f5b400" stroke="#f5b400" stroke-width="1.8" stroke-linejoin="round"/>
<path d="M327.8,275.3 L335.8,262.9 L340.7,260.9 L346.1,267.5 L353.6,272.7 L352.4,275.3 L340.5,273.6 L330.0,277.8Z" fill="#f5b400" stroke="#f5b400" stroke-width="1.8" stroke-linejoin="round"/>
<path d="M389.0,275.1 L392.0,272.7 L397.6,272.7 L400.7,275.6 L400.7,280.5 L396.4,282.2 L390.3,281.2Z" fill="#f5b400" stroke="#f5b400" stroke-width="1.8" stroke-linejoin="round"/>
<path d="M410.5,284.9 L413.9,281.7 L418.6,282.9 L435.7,286.6 L463.0,290.7 L464.0,294.1 L447.9,293.6 L413.9,291.2 L410.0,288.8Z" fill="#f5b400" stroke="#f5b400" stroke-width="1.8" stroke-linejoin="round"/>
<path d="M302.1,282.7 L317.0,280.5 L320.0,284.9 L322.6,292.7 L317.5,293.2 L306.8,288.0Z" fill="#f57c82" stroke="#f57c82" stroke-width="1.8" stroke-linejoin="round"/>
<path d="M335.6,278.8 L338.3,277.3 L350.7,282.4 L349.2,285.6 L337.0,282.2Z" fill="#f57c82" stroke="#f57c82" stroke-width="1.8" stroke-linejoin="round"/>
<path d="M355.1,280.7 L360.0,280.0 L388.8,284.6 L392.9,289.7 L391.2,294.1 L379.5,293.6 L361.5,291.0 L355.6,285.8Z" fill="#f57c82" stroke="#f57c82" stroke-width="1.8" stroke-linejoin="round"/>
<path d="M434.9,297.8 L447.9,298.5 L461.8,300.2 L462.5,305.4 L447.9,304.6 L435.7,303.2Z" fill="#f57c82" stroke="#f57c82" stroke-width="1.8" stroke-linejoin="round"/>
<path d="M312.6,298.5 L324.8,296.8 L329.0,289.7 L332.2,289.7 L332.9,295.6 L329.0,300.5 L314.1,301.5Z" fill="#a8d8f6" stroke="#a8d8f6" stroke-width="1.8" stroke-linejoin="round"/>
<path d="M365.8,298.5 L371.2,297.1 L384.2,297.5 L386.1,300.5 L384.2,302.2 L367.3,302.2Z" fill="#a8d8f6" stroke="#a8d8f6" stroke-width="1.8" stroke-linejoin="round"/>
<path d="M419.8,299.3 L421.7,297.1 L425.6,297.1 L427.6,299.7 L425.9,303.4 L421.5,303.4Z" fill="#a8d8f6" stroke="#a8d8f6" stroke-width="1.8" stroke-linejoin="round"/>
<path d="M330.2,312.7 C330.8,312.3 332.7,311.1 333.6,310.2 C334.6,309.3 335.5,308.4 336.1,307.3 C336.7,306.3 337.1,304.5 337.3,303.9 M337.9,306.4 L337.3,303.9 L335.2,305.4" fill="none" stroke="#f3dcd6" stroke-width="2.6" stroke-linecap="round" stroke-linejoin="round"/>
<path d="M330.2,312.7 C330.8,312.3 332.7,311.1 333.6,310.2 C334.6,309.3 335.5,308.4 336.1,307.3 C336.7,306.3 337.1,304.5 337.3,303.9 M337.9,306.4 L337.3,303.9 L335.2,305.4" fill="none" stroke="#4a4040" stroke-width="0.8" stroke-linecap="round" stroke-linejoin="round"/>
<path d="M366.1,318.8 C364.7,318.1 360.4,316.1 358.0,314.4 C355.7,312.7 353.6,310.7 352.2,308.5 C350.7,306.4 349.7,302.6 349.2,301.5 M351.4,302.9 L349.2,301.5 L348.7,304.0" fill="none" stroke="#f3dcd6" stroke-width="2.6" stroke-linecap="round" stroke-linejoin="round"/>
<path d="M366.1,318.8 C364.7,318.1 360.4,316.1 358.0,314.4 C355.7,312.7 353.6,310.7 352.2,308.5 C350.7,306.4 349.7,302.6 349.2,301.5 M351.4,302.9 L349.2,301.5 L348.7,304.0" fill="none" stroke="#4a4040" stroke-width="0.8" stroke-linecap="round" stroke-linejoin="round"/>
<path d="M393.7,313.4 C394.2,313.0 396.1,311.9 397.1,311.0 C398.1,310.1 398.9,309.1 399.5,308.0 C400.1,307.0 400.5,305.2 400.7,304.6 M401.4,307.1 L400.7,304.6 L398.6,306.2" fill="none" stroke="#f3dcd6" stroke-width="2.6" stroke-linecap="round" stroke-linejoin="round"/>
<path d="M393.7,313.4 C394.2,313.0 396.1,311.9 397.1,311.0 C398.1,310.1 398.9,309.1 399.5,308.0 C400.1,307.0 400.5,305.2 400.7,304.6 M401.4,307.1 L400.7,304.6 L398.6,306.2" fill="none" stroke="#4a4040" stroke-width="0.8" stroke-linecap="round" stroke-linejoin="round"/>
<path d="M414.9,315.1 C414.4,314.8 412.6,313.7 411.7,312.9 C410.8,312.2 410.1,311.5 409.5,310.7 C409.0,309.9 408.5,308.5 408.3,308.0 M410.5,309.4 L408.3,308.0 L407.9,310.6" fill="none" stroke="#f3dcd6" stroke-width="2.6" stroke-linecap="round" stroke-linejoin="round"/>
<path d="M414.9,315.1 C414.4,314.8 412.6,313.7 411.7,312.9 C410.8,312.2 410.1,311.5 409.5,310.7 C409.0,309.9 408.5,308.5 408.3,308.0 M410.5,309.4 L408.3,308.0 L407.9,310.6" fill="none" stroke="#4a4040" stroke-width="0.8" stroke-linecap="round" stroke-linejoin="round"/>
<text x="337.2" y="300.6" font-size="9.5" fill="#4a4a4a" font-family='"Liberation Sans", sans-serif'>e<tspan font-size="5.7" dy="-4.0">-</tspan></text>
<text x="345.0" y="302.0" font-size="9.5" fill="#4a4a4a" font-family='"Liberation Sans", sans-serif'>e<tspan font-size="5.7" dy="-4.0">-</tspan></text>
<text x="397.3" y="302.0" font-size="9.5" fill="#4a4a4a" font-family='"Liberation Sans", sans-serif'>e<tspan font-size="5.7" dy="-4.0">-</tspan></text>
<text x="406.3" y="305.0" font-size="9.5" fill="#4a4a4a" font-family='"Liberation Sans", sans-serif'>e<tspan font-size="5.7" dy="-4.0">-</tspan></text>
<rect x="281.3" y="251.8" width="185.7" height="77.6" fill="none" stroke="#5a5a5a" stroke-width="1.2" stroke-dasharray="6,3"/>
<path d="M530.9,298.9 C532.7,298.8 538.2,299.1 541.6,298.4 C545.1,297.7 548.2,295.6 551.4,294.8 C554.7,293.9 557.1,293.6 561.2,293.5 C565.2,293.5 569.3,294.0 575.8,294.3 C582.3,294.6 592.1,295.0 600.2,295.3 C608.4,295.5 617.3,295.7 624.6,296.0 C632.0,296.3 637.7,297.2 644.2,297.2 C650.7,297.2 658.0,296.6 663.7,296.0 C669.4,295.4 672.6,293.8 678.3,293.5 C684.0,293.3 691.3,293.7 697.9,294.3 C704.4,294.9 714.1,296.7 717.4,297.2 L717.3,316 L530.8,316 Z" fill="#dde9d2"/>
<path d="M530.9,315.0 C534.3,315.1 543.9,315.6 551.4,315.5 C558.9,315.4 563.6,314.6 575.8,314.5 C588.0,314.5 608.4,315.3 624.6,315.3 C640.9,315.3 658.0,314.6 673.4,314.5 C688.9,314.5 710.1,314.9 717.4,315.0 L717.3,330 L530.8,330 Z" fill="#a8a8a8"/>
<path d="M533.6,302.6 L543.4,302.1 L543.6,304.0 L533.8,304.5Z" fill="#f5b400" stroke="#f5b400" stroke-width="1.6" stroke-linejoin="round"/>
<path d="M560.9,298.2 L573.6,297.7 L574.4,301.4 L561.7,302.1Z" fill="#8f88b4" stroke="#8f88b4" stroke-width="1.6" stroke-linejoin="round"/>
<path d="M578.0,299.6 L584.4,298.2 L588.0,300.1 L587.5,304.0 L579.0,304.5Z" fill="#f57c82" stroke="#f57c82" stroke-width="1.6" stroke-linejoin="round"/>
<path d="M592.2,300.1 L611.0,300.6 L611.5,303.6 L592.7,303.1Z" fill="#8f88b4" stroke="#8f88b4" stroke-width="1.6" stroke-linejoin="round"/>
<path d="M615.4,302.1 L646.4,301.6 L647.1,306.2 L641.7,307.7 L616.3,307.0Z" fill="#f57c82" stroke="#f57c82" stroke-width="1.6" stroke-linejoin="round"/>
<path d="M650.0,303.1 L668.3,302.1 L669.1,306.0 L650.7,307.0Z" fill="#8f88b4" stroke="#8f88b4" stroke-width="1.6" stroke-linejoin="round"/>
<path d="M673.4,300.6 L688.3,299.2 L689.1,302.6 L674.2,303.6Z" fill="#f57c82" stroke="#f57c82" stroke-width="1.6" stroke-linejoin="round"/>
<path d="M692.7,299.6 L701.8,299.2 L702.3,302.1 L693.2,302.6Z" fill="#f5b400" stroke="#f5b400" stroke-width="1.6" stroke-linejoin="round"/>
<path d="M704.9,300.6 L714.2,301.6 L714.5,304.0 L705.4,303.6Z" fill="#8f88b4" stroke="#8f88b4" stroke-width="1.6" stroke-linejoin="round"/>
<path d="M533.6,308.7 L541.6,307.9 L551.4,302.1 L555.6,299.6 L557.8,301.6 L550.2,308.4 L541.6,310.9 L534.1,310.9Z" fill="#f57c82" stroke="#f57c82" stroke-width="1.6" stroke-linejoin="round"/>
<path d="M550.9,311.4 L557.8,306.2 L560.9,305.5 L563.1,310.4 L559.7,312.8 L551.9,312.8Z" fill="#a8d8f6" stroke="#a8d8f6" stroke-width="1.6" stroke-linejoin="round"/>
<path d="M568.5,306.0 L572.2,305.0 L586.3,309.7 L585.1,311.4 L579.5,310.9 L569.2,307.9Z" fill="#8f88b4" stroke="#8f88b4" stroke-width="1.6" stroke-linejoin="round"/>
<path d="M593.4,307.5 L612.2,307.9 L613.2,311.6 L600.2,312.3 L593.9,310.9Z" fill="#a8d8f6" stroke="#a8d8f6" stroke-width="1.6" stroke-linejoin="round"/>
<path d="M616.6,309.9 L626.3,309.9 L627.1,311.8 L617.3,311.8Z" fill="#8f88b4" stroke="#8f88b4" stroke-width="1.6" stroke-linejoin="round"/>
<path d="M630.0,310.4 L656.1,310.9 L657.1,313.3 L631.2,313.3Z" fill="#a8d8f6" stroke="#a8d8f6" stroke-width="1.6" stroke-linejoin="round"/>
<path d="M660.5,309.9 L667.1,309.4 L667.6,312.8 L662.0,312.3Z" fill="#f57c82" stroke="#f57c82" stroke-width="1.6" stroke-linejoin="round"/>
<path d="M671.5,308.7 L682.5,307.9 L682.7,311.4 L672.2,311.8Z" fill="#8f88b4" stroke="#8f88b4" stroke-width="1.6" stroke-linejoin="round"/>
<path d="M686.1,307.9 L713.5,307.0 L714.9,310.9 L687.1,311.4Z" fill="#a8d8f6" stroke="#a8d8f6" stroke-width="1.6" stroke-linejoin="round"/>
<text x="538.7" y="325.5" font-size="11.5" text-anchor="middle" fill="#4a4a4a" font-family='"Liberation Serif", serif'>e</text>
<path d="M548.2,328.0 C548.3,327.1 548.6,324.3 548.7,322.5 C548.7,320.7 548.5,317.9 548.5,317.0 M550.0,319.1 L548.5,317.0 L547.1,319.2" fill="none" stroke="#f3dcd6" stroke-width="2.6" stroke-linecap="round" stroke-linejoin="round"/>
<path d="M548.2,328.0 C548.3,327.1 548.6,324.3 548.7,322.5 C548.7,320.7 548.5,317.9 548.5,317.0 M550.0,319.1 L548.5,317.0 L547.1,319.2" fill="none" stroke="#4a4040" stroke-width="0.8" stroke-linecap="round" stroke-linejoin="round"/>
<text x="580.2" y="325.5" font-size="11.5" text-anchor="middle" fill="#4a4a4a" font-family='"Liberation Serif", serif'>e</text>
<path d="M588.9,328.0 C589.0,327.1 589.4,324.3 589.4,322.5 C589.5,320.7 589.3,317.9 589.2,317.0 M590.8,319.1 L589.2,317.0 L587.9,319.2" fill="none" stroke="#f3dcd6" stroke-width="2.6" stroke-linecap="round" stroke-linejoin="round"/>
<path d="M588.9,328.0 C589.0,327.1 589.4,324.3 589.4,322.5 C589.5,320.7 589.3,317.9 589.2,317.0 M590.8,319.1 L589.2,317.0 L587.9,319.2" fill="none" stroke="#4a4040" stroke-width="0.8" stroke-linecap="round" stroke-linejoin="round"/>
<text x="621.7" y="325.5" font-size="11.5" text-anchor="middle" fill="#4a4a4a" font-family='"Liberation Serif", serif'>e</text>
<path d="M630.4,328.0 C630.5,327.1 630.9,324.3 630.9,322.5 C631.0,320.7 630.8,317.9 630.7,317.0 M632.3,319.1 L630.7,317.0 L629.3,319.2" fill="none" stroke="#f3dcd6" stroke-width="2.6" stroke-linecap="round" stroke-linejoin="round"/>
<path d="M630.4,328.0 C630.5,327.1 630.9,324.3 630.9,322.5 C631.0,320.7 630.8,317.9 630.7,317.0 M632.3,319.1 L630.7,317.0 L629.3,319.2" fill="none" stroke="#4a4040" stroke-width="0.8" stroke-linecap="round" stroke-linejoin="round"/>
<text x="662.7" y="325.5" font-size="11.5" text-anchor="middle" fill="#4a4a4a" font-family='"Liberation Serif", serif'>e</text>
<path d="M670.7,328.0 C670.8,327.1 671.2,324.3 671.2,322.5 C671.3,320.7 671.0,317.9 671.0,317.0 M672.6,319.1 L671.0,317.0 L669.6,319.2" fill="none" stroke="#f3dcd6" stroke-width="2.6" stroke-linecap="round" stroke-linejoin="round"/>
<path d="M670.7,328.0 C670.8,327.1 671.2,324.3 671.2,322.5 C671.3,320.7 671.0,317.9 671.0,317.0 M672.6,319.1 L671.0,317.0 L669.6,319.2" fill="none" stroke="#4a4040" stroke-width="0.8" stroke-linecap="round" stroke-linejoin="round"/>
<text x="704.4" y="325.5" font-size="11.5" text-anchor="middle" fill="#4a4a4a" font-family='"Liberation Serif", serif'>e</text>
<path d="M711.0,328.0 C711.1,327.1 711.4,324.3 711.5,322.5 C711.5,320.7 711.3,317.9 711.3,317.0 M712.8,319.1 L711.3,317.0 L709.9,319.2" fill="none" stroke="#f3dcd6" stroke-width="2.6" stroke-linecap="round" stroke-linejoin="round"/>
<path d="M711.0,328.0 C711.1,327.1 711.4,324.3 711.5,322.5 C711.5,320.7 711.3,317.9 711.3,317.0 M712.8,319.1 L711.3,317.0 L709.9,319.2" fill="none" stroke="#4a4040" stroke-width="0.8" stroke-linecap="round" stroke-linejoin="round"/>
<rect x="530.8" y="252.6" width="186.5" height="77.2" fill="none" stroke="#5a5a5a" stroke-width="1.2" stroke-dasharray="6,3"/>
<text x="627.5" y="280.6" font-size="12" text-anchor="middle" font-weight="normal" fill="#1a1a1a" stroke="#1a1a1a" stroke-width="0.3" font-family='"Liberation Sans", sans-serif' font-style="normal" textLength="97.7" lengthAdjust="spacingAndGlyphs" >Thin &amp; uniform SEI</text>
<path d="M719,296 L747,296 M719,314 L747,314 M719,330 L747,330" stroke="#555" stroke-width="0.9" fill="none"/>
<path d="M731.3,298 L731.3,312 M729.3,300.8 L731.3,297.6 L733.3,300.8 M729.3,309.2 L731.3,312.4 L733.3,309.2" stroke="#444" stroke-width="0.8" fill="none"/>
<path d="M731.3,316 L731.3,328 M729.3,318.8 L731.3,315.6 L733.3,318.8 M729.3,325.2 L731.3,328.4 L733.3,325.2" stroke="#444" stroke-width="0.8" fill="none"/>
<text x="762" y="308.7" font-size="10" text-anchor="middle" font-weight="normal" fill="#1a1a1a" stroke="#1a1a1a" stroke-width="0.3" font-family='"Liberation Sans", sans-serif' font-style="normal" textLength="12.5" lengthAdjust="spacingAndGlyphs" >SEI</text>
<text x="765" y="326.7" font-size="10" text-anchor="middle" font-weight="normal" fill="#1a1a1a" stroke="#1a1a1a" stroke-width="0.3" font-family='"Liberation Sans", sans-serif' font-style="normal" textLength="33" lengthAdjust="spacingAndGlyphs" >Li metal</text>
<text x="17.2" y="366.8" font-size="21" text-anchor="start" font-weight="bold" fill="#000" stroke="#000" stroke-width="0.3" font-family='"Liberation Sans", sans-serif' font-style="normal" textLength="10.5" lengthAdjust="spacingAndGlyphs" >d</text>
<ellipse cx="150.4" cy="389" rx="19.7" ry="13.5" fill="#f1f4f1" transform="rotate(0 150.4 389)" filter="url(#eb)"/>
<ellipse cx="223.4" cy="428.5" rx="20.4" ry="15" fill="#f0ebf5" transform="rotate(0 223.4 428.5)" filter="url(#eb)"/>
<ellipse cx="86" cy="464.6" rx="15" ry="15" fill="#fbf9ed" transform="rotate(0 86 464.6)" filter="url(#eb)"/>
<ellipse cx="129" cy="466" rx="16.5" ry="14.5" fill="#efedf7" transform="rotate(0 129 466)" filter="url(#eb)"/>
<ellipse cx="155.3" cy="457" rx="13" ry="17" fill="#f0ebf4" transform="rotate(0 155.3 457)" filter="url(#eb)"/>
<ellipse cx="194.8" cy="462" rx="26.5" ry="13.8" fill="#f5ebed" transform="rotate(0 194.8 462)" filter="url(#eb)"/>
<ellipse cx="130.7" cy="501.4" rx="20.4" ry="15.5" fill="#f5f6ed" transform="rotate(0 130.7 501.4)" filter="url(#eb)"/>
<ellipse cx="192.5" cy="491" rx="27" ry="11" fill="#ededfb" transform="rotate(0 192.5 491)" filter="url(#eb)"/>
<ellipse cx="183.3" cy="523.8" rx="27" ry="12.8" fill="#ebedf7" transform="rotate(0 183.3 523.8)" filter="url(#eb)"/>
<ellipse cx="352.8" cy="414.5" rx="27" ry="14" fill="#e9f5eb" transform="rotate(38 352.8 414.5)" filter="url(#eb)"/>
<ellipse cx="311.4" cy="431" rx="22" ry="11" fill="#f6f3ed" transform="rotate(0 311.4 431)" filter="url(#eb)"/>
<ellipse cx="333.4" cy="454.5" rx="30" ry="12.4" fill="#ebf4fb" transform="rotate(0 333.4 454.5)" filter="url(#eb)"/>
<ellipse cx="420.3" cy="427.7" rx="27.6" ry="13.2" fill="#f2ebf4" transform="rotate(0 420.3 427.7)" filter="url(#eb)"/>
<ellipse cx="379" cy="465.5" rx="18" ry="11.5" fill="#f0e8f6" transform="rotate(0 379 465.5)" filter="url(#eb)"/>
<ellipse cx="419" cy="467.7" rx="19.3" ry="11" fill="#f5f5ee" transform="rotate(0 419 467.7)" filter="url(#eb)"/>
<ellipse cx="393.3" cy="500.6" rx="30.3" ry="18.8" fill="#f2e9f4" transform="rotate(0 393.3 500.6)" filter="url(#eb)"/>
<ellipse cx="526.5" cy="424" rx="30" ry="18.5" fill="#f4f5ed" transform="rotate(0 526.5 424)" filter="url(#eb)"/>
<ellipse cx="670" cy="454" rx="37" ry="14.5" fill="#ebf5eb" transform="rotate(0 670 454)" filter="url(#eb)"/>
<ellipse cx="685" cy="486.5" rx="37" ry="17" fill="#e8f9e8" transform="rotate(0 685 486.5)" filter="url(#eb)"/>
<polygon points="346,376.3 550,376.3 550,372 561.3,381.3 550,390.8 550,385.8 346,385.8" fill="url(#harrow)"/>
<polygon points="613.7,507 613.7,411.6 609.2,411.6 618,403 626.9,411.6 623.1,411.6 623.1,507" fill="url(#varrow)"/>
<rect x="565.4" y="365.2" width="138.8" height="30.8" rx="2.5" fill="#ffe6e6"/>
<rect x="566.2" y="366" width="137.2" height="29.2" rx="2" fill="#ffd2d3"/>
<polygon points="582.2,372.9 584.1,378.5 590.1,378.6 585.3,382.2 587.1,387.9 582.2,384.5 577.3,387.9 579.1,382.2 574.3,378.6 580.3,378.5" fill="#f01010"/>
<text x="598" y="386.6" font-size="15" text-anchor="start" font-weight="bold" fill="#111" stroke="#111" stroke-width="0.3" font-family='"Liberation Sans", sans-serif' font-style="normal" textLength="67" lengthAdjust="spacingAndGlyphs" >This work</text>
<text x="670" y="386.6" font-size="11.2" text-anchor="start" font-weight="bold" fill="#111" stroke="#111" stroke-width="0.3" font-family='"Liberation Sans", sans-serif' font-style="normal" textLength="16.5" lengthAdjust="spacingAndGlyphs" >ZB</text>
<rect x="60" y="358" width="681.5" height="183" fill="none" stroke="#333" stroke-width="1"/>
<line x1="60" y1="358.0" x2="63.5" y2="358.0" stroke="#444" stroke-width="1"/>
<text x="55.5" y="361.6" font-size="10" text-anchor="end" font-weight="normal" fill="#111" stroke="#111" stroke-width="0.3" font-family='"Liberation Sans", sans-serif' font-style="normal" textLength="12.8" lengthAdjust="spacingAndGlyphs" >1.0</text>
<line x1="60" y1="380.9" x2="62" y2="380.9" stroke="#444" stroke-width="0.8"/>
<line x1="60" y1="403.75" x2="63.5" y2="403.75" stroke="#444" stroke-width="1"/>
<text x="55.5" y="407.35" font-size="10" text-anchor="end" font-weight="normal" fill="#111" stroke="#111" stroke-width="0.3" font-family='"Liberation Sans", sans-serif' font-style="normal" textLength="12.8" lengthAdjust="spacingAndGlyphs" >0.8</text>
<line x1="60" y1="426.65" x2="62" y2="426.65" stroke="#444" stroke-width="0.8"/>
<line x1="60" y1="449.5" x2="63.5" y2="449.5" stroke="#444" stroke-width="1"/>
<text x="55.5" y="453.1" font-size="10" text-anchor="end" font-weight="normal" fill="#111" stroke="#111" stroke-width="0.3" font-family='"Liberation Sans", sans-serif' font-style="normal" textLength="12.8" lengthAdjust="spacingAndGlyphs" >0.6</text>
<line x1="60" y1="472.4" x2="62" y2="472.4" stroke="#444" stroke-width="0.8"/>
<line x1="60" y1="495.25" x2="63.5" y2="495.25" stroke="#444" stroke-width="1"/>
<text x="55.5" y="498.85" font-size="10" text-anchor="end" font-weight="normal" fill="#111" stroke="#111" stroke-width="0.3" font-family='"Liberation Sans", sans-serif' font-style="normal" textLength="12.8" lengthAdjust="spacingAndGlyphs" >0.4</text>
<line x1="60" y1="518.15" x2="62" y2="518.15" stroke="#444" stroke-width="0.8"/>
<line x1="60" y1="541.0" x2="63.5" y2="541.0" stroke="#444" stroke-width="1"/>
<text x="55.5" y="544.6" font-size="10" text-anchor="end" font-weight="normal" fill="#111" stroke="#111" stroke-width="0.3" font-family='"Liberation Sans", sans-serif' font-style="normal" textLength="12.8" lengthAdjust="spacingAndGlyphs" >0.2</text>
<line x1="60.0" y1="541" x2="60.0" y2="537.5" stroke="#444" stroke-width="1"/>
<text x="60.0" y="553.6" font-size="10" text-anchor="middle" font-weight="normal" fill="#111" stroke="#111" stroke-width="0.3" font-family='"Liberation Sans", sans-serif' font-style="normal" textLength="12.8" lengthAdjust="spacingAndGlyphs" >0.0</text>
<line x1="145.2" y1="541" x2="145.2" y2="539" stroke="#444" stroke-width="0.8"/>
<line x1="230.4" y1="541" x2="230.4" y2="537.5" stroke="#444" stroke-width="1"/>
<text x="230.4" y="553.6" font-size="10" text-anchor="middle" font-weight="normal" fill="#111" stroke="#111" stroke-width="0.3" font-family='"Liberation Sans", sans-serif' font-style="normal" textLength="12.8" lengthAdjust="spacingAndGlyphs" >0.3</text>
<line x1="315.6" y1="541" x2="315.6" y2="539" stroke="#444" stroke-width="0.8"/>
<line x1="400.8" y1="541" x2="400.8" y2="537.5" stroke="#444" stroke-width="1"/>
<text x="400.8" y="553.6" font-size="10" text-anchor="middle" font-weight="normal" fill="#111" stroke="#111" stroke-width="0.3" font-family='"Liberation Sans", sans-serif' font-style="normal" textLength="12.8" lengthAdjust="spacingAndGlyphs" >0.6</text>
<line x1="486.0" y1="541" x2="486.0" y2="539" stroke="#444" stroke-width="0.8"/>
<line x1="571.2" y1="541" x2="571.2" y2="537.5" stroke="#444" stroke-width="1"/>
<text x="571.2" y="553.6" font-size="10" text-anchor="middle" font-weight="normal" fill="#111" stroke="#111" stroke-width="0.3" font-family='"Liberation Sans", sans-serif' font-style="normal" textLength="12.8" lengthAdjust="spacingAndGlyphs" >0.9</text>
<line x1="656.4000000000001" y1="541" x2="656.4000000000001" y2="539" stroke="#444" stroke-width="0.8"/>
<line x1="741.6" y1="541" x2="741.6" y2="537.5" stroke="#444" stroke-width="1"/>
<text x="741.6" y="553.6" font-size="10" text-anchor="middle" font-weight="normal" fill="#111" stroke="#111" stroke-width="0.3" font-family='"Liberation Sans", sans-serif' font-style="normal" textLength="12.8" lengthAdjust="spacingAndGlyphs" >1.2</text>
<text x="29.8" y="450" font-size="11" text-anchor="middle" fill="#111" stroke="#111" stroke-width="0.2" font-family='"Liberation Sans", sans-serif' transform="rotate(-90 29.8 450)" textLength="123" lengthAdjust="spacingAndGlyphs">Li<tspan font-size="6.5" dy="-3.5">+</tspan><tspan dy="3.5"> Transference number</tspan></text>
<text x="135.6" y="385.7" font-size="12.5" text-anchor="start" fill="#111" stroke="#111" stroke-width="0.32" font-family='"Liberation Sans", sans-serif' textLength="27" lengthAdjust="spacingAndGlyphs"><tspan dy="0">ZIF-8</tspan></text>
<text x="209" y="427.4" font-size="12.5" text-anchor="start" fill="#111" stroke="#111" stroke-width="0.32" font-family='"Liberation Sans", sans-serif' textLength="25.3" lengthAdjust="spacingAndGlyphs"><tspan dy="0">ZrO</tspan><tspan font-size="9.0" dy="3.0">2</tspan></text>
<text x="63.2" y="466" font-size="12.5" text-anchor="start" fill="#111" stroke="#111" stroke-width="0.32" font-family='"Liberation Sans", sans-serif' textLength="22.4" lengthAdjust="spacingAndGlyphs"><tspan dy="0">LAO</tspan></text>
<text x="102" y="469.5" font-size="12.5" text-anchor="start" fill="#111" stroke="#111" stroke-width="0.32" font-family='"Liberation Sans", sans-serif' textLength="23" lengthAdjust="spacingAndGlyphs"><tspan dy="0">TiO</tspan><tspan font-size="9.0" dy="3.0">2</tspan></text>
<text x="140.5" y="455.4" font-size="12.5" text-anchor="start" fill="#111" stroke="#111" stroke-width="0.32" font-family='"Liberation Sans", sans-serif' textLength="21.5" lengthAdjust="spacingAndGlyphs"><tspan dy="0">AlF</tspan><tspan font-size="9.0" dy="3.0">3</tspan></text>
<text x="181.6" y="466" font-size="12.5" text-anchor="start" fill="#111" stroke="#111" stroke-width="0.32" font-family='"Liberation Sans", sans-serif' textLength="37.2" lengthAdjust="spacingAndGlyphs"><tspan dy="0">Zeolite</tspan></text>
<text x="114.9" y="516.3" font-size="12.5" text-anchor="start" fill="#111" stroke="#111" stroke-width="0.32" font-family='"Liberation Sans", sans-serif' textLength="22.3" lengthAdjust="spacingAndGlyphs"><tspan dy="0">HNT</tspan></text>
<text x="182.6" y="495.5" font-size="12.5" text-anchor="start" fill="#111" stroke="#111" stroke-width="0.32" font-family='"Liberation Sans", sans-serif' textLength="25.4" lengthAdjust="spacingAndGlyphs"><tspan dy="0">CuF</tspan><tspan font-size="9.0" dy="3.0">2</tspan></text>
<text x="176.7" y="529.4" font-size="12.5" text-anchor="start" fill="#111" stroke="#111" stroke-width="0.32" font-family='"Liberation Sans", sans-serif' textLength="23" lengthAdjust="spacingAndGlyphs"><tspan dy="0">SiO</tspan><tspan font-size="9.0" dy="3.0">2</tspan></text>
<text x="328" y="412.6" font-size="12.5" text-anchor="start" fill="#111" stroke="#111" stroke-width="0.32" font-family='"Liberation Sans", sans-serif' textLength="30.3" lengthAdjust="spacingAndGlyphs"><tspan dy="0">Al</tspan><tspan font-size="9.0" dy="3.0">2</tspan><tspan dy="-3.0">O</tspan><tspan font-size="9.0" dy="3.0">3</tspan></text>
<text x="289.9" y="436.6" font-size="12.5" text-anchor="start" fill="#111" stroke="#111" stroke-width="0.32" font-family='"Liberation Sans", sans-serif' textLength="27.5" lengthAdjust="spacingAndGlyphs"><tspan dy="0">ZIF-8</tspan></text>
<text x="291.5" y="458" font-size="12.5" text-anchor="start" fill="#111" stroke="#111" stroke-width="0.32" font-family='"Liberation Sans", sans-serif' textLength="50.8" lengthAdjust="spacingAndGlyphs"><tspan dy="0">Mg(OTf)</tspan><tspan font-size="9.0" dy="3.0">2</tspan></text>
<text x="405.2" y="432.4" font-size="12.5" text-anchor="start" fill="#111" stroke="#111" stroke-width="0.32" font-family='"Liberation Sans", sans-serif' textLength="25.4" lengthAdjust="spacingAndGlyphs"><tspan dy="0">ZrO</tspan><tspan font-size="9.0" dy="3.0">2</tspan></text>
<text x="352.2" y="469.7" font-size="12.5" text-anchor="start" fill="#111" stroke="#111" stroke-width="0.32" font-family='"Liberation Sans", sans-serif' textLength="24.8" lengthAdjust="spacingAndGlyphs"><tspan dy="0">ZrO</tspan><tspan font-size="9.0" dy="3.0">2</tspan></text>
<text x="397.4" y="469.7" font-size="12.5" text-anchor="start" fill="#111" stroke="#111" stroke-width="0.32" font-family='"Liberation Sans", sans-serif' textLength="20.2" lengthAdjust="spacingAndGlyphs"><tspan dy="0">YSZ</tspan></text>
<text x="374.8" y="511.9" font-size="12.5" text-anchor="start" fill="#111" stroke="#111" stroke-width="0.32" font-family='"Liberation Sans", sans-serif' textLength="35.9" lengthAdjust="spacingAndGlyphs"><tspan dy="0">Mo</tspan><tspan font-size="9.0" dy="3.0">2</tspan><tspan dy="-3.0">C</tspan><tspan font-size="9.0" dy="3.0">3</tspan></text>
<text x="501.5" y="437.5" font-size="12.5" text-anchor="start" fill="#111" stroke="#111" stroke-width="0.32" font-family='"Liberation Sans", sans-serif' textLength="36" lengthAdjust="spacingAndGlyphs"><tspan dy="0">CuPcLi</tspan></text>
<text x="628.5" y="459" font-size="12.5" text-anchor="start" fill="#111" stroke="#111" stroke-width="0.32" font-family='"Liberation Sans", sans-serif' textLength="47.5" lengthAdjust="spacingAndGlyphs"><tspan dy="0">Sn(OTf)</tspan><tspan font-size="9.0" dy="3.0">2</tspan></text>
<text x="675.5" y="501.5" font-size="12.5" text-anchor="start" fill="#111" stroke="#111" stroke-width="0.32" font-family='"Liberation Sans", sans-serif' textLength="28" lengthAdjust="spacingAndGlyphs"><tspan dy="0">CeO</tspan><tspan font-size="9.0" dy="3.0">2</tspan></text>
<rect x="140.7" y="392.0" width="9.6" height="9.6" fill="#fff" stroke="#1c8f1c" stroke-width="1.1"/>
<rect x="140.7" y="392.0" width="4.8" height="9.6" fill="#1c8f1c"/>
<circle cx="216.2" cy="438" r="5" fill="#fff" stroke="#3b3fb0" stroke-width="1.1"/>
<path d="M216.2,433 A5,5 0 0 0 216.2,443 Z" fill="#3b3fb0"/>
<rect x="63.400000000000006" y="472.0" width="9.6" height="9.6" fill="#fff" stroke="#b5651d" stroke-width="1.1"/>
<rect x="63.400000000000006" y="472.0" width="9.6" height="4.8" fill="#b5651d"/>
<circle cx="131.3" cy="466" r="5" fill="#fff" stroke="#3b3fb0" stroke-width="1.1"/>
<path d="M126.30000000000001,466 A5,5 0 0 0 136.3,466 Z" fill="#3b3fb0"/>
<polygon points="150.4,459.2 157,466 150.4,472.8 143.8,466" fill="#fff" stroke="#111" stroke-width="1"/>
<polygon points="150.4,459.2 157,466 150.4,472.8" fill="#111"/>
<circle cx="172.8" cy="461" r="5.3" fill="url(#zeo)"/>
<polygon points="124.0,489.4 129.7,493.5 127.5,500.3 120.5,500.3 118.3,493.5" fill="#fff" stroke="#1a9a8a" stroke-width="1.1"/>
<polygon points="124.0,489.4 124.0,500.3 120.5,500.3 118.3,493.5" fill="#1a9a8a"/>
<polygon points="167.6,487.4 180.4,487.4 174,498.4" fill="#fff" stroke="#1a1af0" stroke-width="1.1" stroke-linejoin="miter"/>
<polygon points="169.9,491.4 178.1,491.4 174,498.4" fill="#1a1af0" stroke="#1a1af0" stroke-width="0.8"/>
<polygon points="167.8,514.4 172.8,517.3 172.8,523.1 167.8,526.0 162.8,523.1 162.8,517.3" fill="#fff" stroke="#2f62b0" stroke-width="1.1"/>
<polygon points="167.8,514.4 172.8,517.3 172.8,520.2 162.8,520.2 162.8,517.3" fill="#2f62b0"/>
<rect x="335.8" y="417.4" width="9.6" height="9.6" fill="#fff" stroke="#22cc44" stroke-width="1.1"/>
<rect x="340.6" y="417.4" width="4.8" height="9.6" fill="#22cc44"/>
<polygon points="327.1,425.2 334.2,431.6 327.1,438 320,431.6" fill="#fff" stroke="#a0625c" stroke-width="1"/>
<polygon points="327.1,425.2 334.2,431.6 320,431.6" fill="#a0625c"/>
<polygon points="340.3,441.3 350.8,447 340.3,452.8" fill="#fff" stroke="#22c4d6" stroke-width="1.1"/>
<polygon points="340.3,447 350.8,447 340.3,452.8" fill="#22c4d6"/>
<rect x="393.3" y="422" width="10" height="10" fill="#bf2480"/>
<polygon points="383.1,460.2 388.6,464.2 386.5,470.7 379.7,470.7 377.6,464.2" fill="#8a2cf0"/>
<polygon points="396.6,465.5 393.7,470.5 387.9,470.5 385.0,465.5 387.9,460.5 393.7,460.5" fill="#99a33a"/>
<circle cx="383.1" cy="490.9" r="5" fill="#fff" stroke="#8b0a8b" stroke-width="1.1"/>
<path d="M383.1,485.9 A5,5 0 0 1 383.1,495.9 Z" fill="#8b0a8b"/>
<polygon points="510,411.5 521.5,417.5 510,423.5" fill="#8b8b12"/>
<circle cx="684" cy="454.5" r="5.6" fill="#5d9c63"/>
<polygon points="688.3,473.5 677,479.5 688.3,485.5" fill="#fff" stroke="#22e022" stroke-width="1.1"/>
<polygon points="685,475.2 677,479.5 685,483.8" fill="#22e022"/>
</g>
</svg>
</body></html>
